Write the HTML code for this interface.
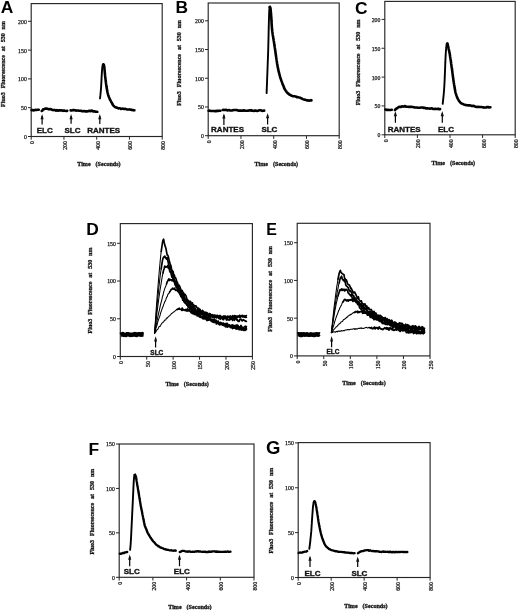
<!DOCTYPE html>
<html><head><meta charset="utf-8"><style>
html,body{margin:0;padding:0;background:#fff;}
body{width:520px;height:610px;overflow:hidden;font-family:"Liberation Sans",sans-serif;}
svg{display:block;filter:grayscale(1);}
</style></head><body>
<svg width="520" height="610" viewBox="0 0 520 610">
<rect width="520" height="610" fill="#fff"/>
<rect x="31.2" y="3.6" width="131" height="132.9" fill="none" stroke="#262626" stroke-width="1.15"/>
<line x1="28" y1="136.5" x2="31.2" y2="136.5" stroke="#262626" stroke-width="1"/>
<text x="26.8" y="138.9" font-family="Liberation Serif" font-size="5.8" text-anchor="end" fill="#1a1a1a" stroke="#222" stroke-width="0.25">0</text>
<line x1="28" y1="107.7" x2="31.2" y2="107.7" stroke="#262626" stroke-width="1"/>
<text x="26.8" y="110.1" font-family="Liberation Serif" font-size="5.8" text-anchor="end" fill="#1a1a1a" stroke="#222" stroke-width="0.25">50</text>
<line x1="28" y1="78.9" x2="31.2" y2="78.9" stroke="#262626" stroke-width="1"/>
<text x="26.8" y="81.3" font-family="Liberation Serif" font-size="5.8" text-anchor="end" fill="#1a1a1a" stroke="#222" stroke-width="0.25">100</text>
<line x1="28" y1="50.1" x2="31.2" y2="50.1" stroke="#262626" stroke-width="1"/>
<text x="26.8" y="52.5" font-family="Liberation Serif" font-size="5.8" text-anchor="end" fill="#1a1a1a" stroke="#222" stroke-width="0.25">150</text>
<line x1="28" y1="21.3" x2="31.2" y2="21.3" stroke="#262626" stroke-width="1"/>
<text x="26.8" y="23.7" font-family="Liberation Serif" font-size="5.8" text-anchor="end" fill="#1a1a1a" stroke="#222" stroke-width="0.25">200</text>
<line x1="31.2" y1="136.5" x2="31.2" y2="139.7" stroke="#262626" stroke-width="1"/>
<text transform="translate(34.1 141.1) rotate(-90)" font-family="Liberation Serif" font-size="5.8" text-anchor="end" fill="#1a1a1a" stroke="#222" stroke-width="0.25">0</text>
<line x1="63.95" y1="136.5" x2="63.95" y2="139.7" stroke="#262626" stroke-width="1"/>
<text transform="translate(66.85 141.1) rotate(-90)" font-family="Liberation Serif" font-size="5.8" text-anchor="end" fill="#1a1a1a" stroke="#222" stroke-width="0.25">200</text>
<line x1="96.7" y1="136.5" x2="96.7" y2="139.7" stroke="#262626" stroke-width="1"/>
<text transform="translate(99.6 141.1) rotate(-90)" font-family="Liberation Serif" font-size="5.8" text-anchor="end" fill="#1a1a1a" stroke="#222" stroke-width="0.25">400</text>
<line x1="129.45" y1="136.5" x2="129.45" y2="139.7" stroke="#262626" stroke-width="1"/>
<text transform="translate(132.35 141.1) rotate(-90)" font-family="Liberation Serif" font-size="5.8" text-anchor="end" fill="#1a1a1a" stroke="#222" stroke-width="0.25">600</text>
<line x1="162.2" y1="136.5" x2="162.2" y2="139.7" stroke="#262626" stroke-width="1"/>
<text transform="translate(165.1 141.1) rotate(-90)" font-family="Liberation Serif" font-size="5.8" text-anchor="end" fill="#1a1a1a" stroke="#222" stroke-width="0.25">800</text>
<text x="0.8" y="12.9" font-family="Liberation Sans" font-weight="bold" font-size="17.4" fill="#000">A</text>
<text transform="translate(5.4 106.9) rotate(-90)" font-family="Liberation Serif" font-weight="bold" font-size="6.0" word-spacing="2.4" fill="#1a1a1a" stroke="#111" stroke-width="0.3">Fluo3 Fluorescence at 530 nm</text>
<text x="77.2" y="166.3" font-family="Liberation Serif" font-weight="bold" font-size="6.1" fill="#1a1a1a" stroke="#111" stroke-width="0.3">Time</text>
<text x="95.6" y="166.3" font-family="Liberation Serif" font-weight="bold" font-size="6.1" fill="#1a1a1a" stroke="#111" stroke-width="0.3">(Seconds)</text>
<path d="M31.6 110.08 L32.8 110.01 L34 110.41 L35.25 109.85 L36.5 110.03 L37.65 109.81 L38.8 109.8" fill="none" stroke="#000" stroke-width="2.6" stroke-linejoin="round" stroke-linecap="round"/>
<path d="M41.7 110.99 L42.45 110.46 L43.2 109.28 L44.25 109.15 L45.3 108.5 L46.65 108.61 L48 108.95 L49 109.38 L50 109.04 L51 109.26 L52 109.69 L53 110.09 L54 110 L55 110.05 L56 110.63 L57 110.06 L58 110.7 L59 110.38 L60 110.35 L61 110.36 L62 110.52 L63 110.9 L64 110.48 L65.07 110.82 L66.13 110.93 L67.2 110.9" fill="none" stroke="#000" stroke-width="2.6" stroke-linejoin="round" stroke-linecap="round"/>
<path d="M70.6 110.41 L71.7 110.51 L72.8 110.14 L73.9 110.12 L75 110.19 L76 110.61 L77 110.51 L78 110.51 L79 110.78 L80 110.77 L81 110.76 L82 111.21 L83 111.24 L84 111.02 L85 111.35 L86 111.22 L87 111.36 L88 111.16 L89.17 110.78 L90.33 111.2 L91.5 110.53 L92.5 111.01 L93.5 111.51 L94.5 111.36 L95.9 111.69 L97.3 111.8" fill="none" stroke="#000" stroke-width="2.6" stroke-linejoin="round" stroke-linecap="round"/>
<path d="M100 98.46 L100.09 97.8 L100.18 96.98 L100.27 96.13 L100.36 95.42 L100.44 94.45 L100.54 93.6 L100.64 92.6 L100.73 91.63 L100.8 90.79 L100.87 90.1 L100.93 89.33 L101 88.39 L101.06 87.49 L101.12 86.36 L101.18 85.59 L101.24 84.62 L101.28 83.84 L101.33 82.9 L101.38 81.86 L101.42 81 L101.47 80.2 L101.51 79.14 L101.56 78.41 L101.6 77.45 L101.65 76.57 L101.69 75.69 L101.74 75.02 L101.8 73.95 L101.85 73.11 L101.9 72.27 L101.96 71.57 L102.02 70.49 L102.09 69.76 L102.17 68.83 L102.26 67.98 L102.42 66.52 L102.6 65.41 L102.81 64.52 L103.04 64.29 L103.25 64.22 L103.4 64.2" fill="none" stroke="#000" stroke-width="1.9" stroke-linejoin="round" stroke-linecap="round"/>
<path d="M103.4 64.39 L103.54 64.71 L103.75 64.67 L103.98 65.3 L104.2 66.37 L104.3 67.16 L104.39 68.08 L104.49 69.15 L104.58 70 L104.68 70.99 L104.78 72.32 L104.89 73.42 L105 74.63 L105.12 75.92 L105.24 76.89 L105.36 77.93 L105.49 79.12 L105.63 80.31 L105.77 81.17 L105.88 82.39 L105.99 83.14 L106.1 83.99 L106.22 84.81 L106.35 85.48 L106.47 86.35 L106.61 87.11 L106.75 88.3 L106.89 88.92 L107.04 89.82 L107.2 90.78 L107.36 91.65 L107.54 92.53 L107.72 93.18 L107.9 93.95 L108.22 95.03 L108.54 96.01 L108.89 97.02 L109.25 97.73 L109.63 98.96 L110.01 99.63 L110.41 100.16 L110.8 100.98 L111.21 101.79 L111.63 102.56 L112.07 103.17 L112.51 104.26 L113.38 105.63 L114.2 106.38 L114.94 107.06 L115.62 107.24 L116.3 107.48 L117 107.82 L117.71 108 L118.42 108.43 L119.17 108.22 L120 108.26 L120.93 108.84 L121.94 108.73 L122.98 108.63 L124 108.92 L125.02 108.76 L126.06 109.11 L127.07 109.43 L128 109.48 L128.81 109.52 L129.54 109.42 L130.25 109.61 L131 109.63 L131.9 110.07 L132.89 110.1 L133.78 110.35 L134.4 110.3" fill="none" stroke="#000" stroke-width="2.6" stroke-linejoin="round" stroke-linecap="round"/>
<line x1="42.1" y1="116.1" x2="42.1" y2="124.4" stroke="#000" stroke-width="1.2"/>
<path d="M42.1 114.1 L40.5 119.3 L43.7 119.3 Z" fill="#111"/>
<line x1="71.1" y1="116" x2="71.1" y2="123.8" stroke="#000" stroke-width="1.2"/>
<path d="M71.1 114 L69.5 119.2 L72.7 119.2 Z" fill="#111"/>
<line x1="99.8" y1="116" x2="99.8" y2="124" stroke="#000" stroke-width="1.2"/>
<path d="M99.8 114 L98.2 119.2 L101.4 119.2 Z" fill="#111"/>
<text x="36.7" y="133.1" font-family="Liberation Sans" font-weight="bold" font-size="8.0" fill="#111" stroke="#111" stroke-width="0.35">ELC</text>
<text x="64.5" y="133.1" font-family="Liberation Sans" font-weight="bold" font-size="8.0" fill="#111" stroke="#111" stroke-width="0.35">SLC</text>
<text x="87.2" y="133.1" font-family="Liberation Sans" font-weight="bold" font-size="8.0" fill="#111" stroke="#111" stroke-width="0.35">RANTES</text>
<rect x="208.2" y="3" width="131" height="132.7" fill="none" stroke="#262626" stroke-width="1.15"/>
<line x1="205" y1="135.7" x2="208.2" y2="135.7" stroke="#262626" stroke-width="1"/>
<text x="203.8" y="138.1" font-family="Liberation Serif" font-size="5.8" text-anchor="end" fill="#1a1a1a" stroke="#222" stroke-width="0.25">0</text>
<line x1="205" y1="106.97" x2="208.2" y2="106.97" stroke="#262626" stroke-width="1"/>
<text x="203.8" y="109.38" font-family="Liberation Serif" font-size="5.8" text-anchor="end" fill="#1a1a1a" stroke="#222" stroke-width="0.25">50</text>
<line x1="205" y1="78.25" x2="208.2" y2="78.25" stroke="#262626" stroke-width="1"/>
<text x="203.8" y="80.65" font-family="Liberation Serif" font-size="5.8" text-anchor="end" fill="#1a1a1a" stroke="#222" stroke-width="0.25">100</text>
<line x1="205" y1="49.52" x2="208.2" y2="49.52" stroke="#262626" stroke-width="1"/>
<text x="203.8" y="51.92" font-family="Liberation Serif" font-size="5.8" text-anchor="end" fill="#1a1a1a" stroke="#222" stroke-width="0.25">150</text>
<line x1="205" y1="20.8" x2="208.2" y2="20.8" stroke="#262626" stroke-width="1"/>
<text x="203.8" y="23.2" font-family="Liberation Serif" font-size="5.8" text-anchor="end" fill="#1a1a1a" stroke="#222" stroke-width="0.25">200</text>
<line x1="208.2" y1="135.7" x2="208.2" y2="138.9" stroke="#262626" stroke-width="1"/>
<text transform="translate(211.1 140.3) rotate(-90)" font-family="Liberation Serif" font-size="5.8" text-anchor="end" fill="#1a1a1a" stroke="#222" stroke-width="0.25">0</text>
<line x1="240.95" y1="135.7" x2="240.95" y2="138.9" stroke="#262626" stroke-width="1"/>
<text transform="translate(243.85 140.3) rotate(-90)" font-family="Liberation Serif" font-size="5.8" text-anchor="end" fill="#1a1a1a" stroke="#222" stroke-width="0.25">200</text>
<line x1="273.7" y1="135.7" x2="273.7" y2="138.9" stroke="#262626" stroke-width="1"/>
<text transform="translate(276.6 140.3) rotate(-90)" font-family="Liberation Serif" font-size="5.8" text-anchor="end" fill="#1a1a1a" stroke="#222" stroke-width="0.25">400</text>
<line x1="306.45" y1="135.7" x2="306.45" y2="138.9" stroke="#262626" stroke-width="1"/>
<text transform="translate(309.35 140.3) rotate(-90)" font-family="Liberation Serif" font-size="5.8" text-anchor="end" fill="#1a1a1a" stroke="#222" stroke-width="0.25">600</text>
<line x1="339.2" y1="135.7" x2="339.2" y2="138.9" stroke="#262626" stroke-width="1"/>
<text transform="translate(342.1 140.3) rotate(-90)" font-family="Liberation Serif" font-size="5.8" text-anchor="end" fill="#1a1a1a" stroke="#222" stroke-width="0.25">800</text>
<text x="175.5" y="12.9" font-family="Liberation Sans" font-weight="bold" font-size="17.4" fill="#000">B</text>
<text transform="translate(181.2 105.8) rotate(-90)" font-family="Liberation Serif" font-weight="bold" font-size="6.0" word-spacing="2.4" fill="#1a1a1a" stroke="#111" stroke-width="0.3">Fluo3 Fluorescence at 530 nm</text>
<text x="254.6" y="166" font-family="Liberation Serif" font-weight="bold" font-size="6.1" fill="#1a1a1a" stroke="#111" stroke-width="0.3">Time</text>
<text x="273" y="166" font-family="Liberation Serif" font-weight="bold" font-size="6.1" fill="#1a1a1a" stroke="#111" stroke-width="0.3">(Seconds)</text>
<path d="M208.6 110.78 L209.73 110.64 L210.87 110.98 L212 111.04 L213 111.02 L214 111.06 L215 111.15 L216 111.17 L217.1 110.76 L218.2 110.91 L219.3 110.75 L220.4 110.8" fill="none" stroke="#000" stroke-width="2.6" stroke-linejoin="round" stroke-linecap="round"/>
<path d="M222.7 109.97 L223.8 109.87 L224.9 109.95 L226 109.83 L227 110.17 L228 110.39 L229 110.06 L230 110.44 L231 110.51 L232 110.52 L233 110.12 L234 110.04 L235 110.06 L236 110.05 L237 110.08 L238 110.39 L239 110.63 L240 110.64 L241 110.44 L242 110.61 L243 110.76 L244 110.31 L245 110.68 L246 110.82 L247 110.7 L248 110.64 L249 110.42 L250 110.17 L251 110.65 L252 110.38 L253 110.76 L254 110.93 L255 110.58 L256 110.63 L257 110.96 L258 110.76 L259 110.32 L260 110.24 L261.05 110.28 L262.1 110.83 L263.15 110.79 L264.2 110.6" fill="none" stroke="#000" stroke-width="2.6" stroke-linejoin="round" stroke-linecap="round"/>
<path d="M266.6 93.17 L266.64 92.46 L266.67 91.57 L266.71 90.5 L266.74 89.44 L266.78 88.6 L266.81 87.53 L266.85 86.58 L266.88 86.02 L266.92 84.99 L266.95 84.03 L266.98 83.3 L267.02 82.24 L267.05 81.52 L267.08 80.63 L267.12 79.53 L267.15 78.66 L267.18 77.8 L267.21 76.94 L267.24 76.23 L267.27 75.27 L267.31 74.49 L267.34 73.55 L267.37 72.99 L267.4 71.95 L267.43 71.09 L267.47 70.24 L267.5 69.46 L267.54 68.38 L267.57 67.67 L267.6 66.62 L267.64 65.73 L267.67 64.83 L267.71 63.75 L267.74 63.01 L267.78 62.02 L267.81 61.05 L267.85 60.42 L267.88 59.28 L267.91 58.47 L267.95 57.64 L267.98 56.66 L268.01 55.66 L268.04 54.92 L268.07 54.11 L268.09 53.38 L268.12 52.31 L268.15 51.66 L268.17 50.73 L268.2 49.92 L268.22 49.2 L268.25 48.2 L268.27 47.31 L268.3 46.48 L268.32 45.63 L268.34 44.56 L268.37 43.72 L268.39 42.84 L268.41 42 L268.43 41.22 L268.45 40.29 L268.47 39.48 L268.49 38.62 L268.51 37.94 L268.53 37.01 L268.54 36.27 L268.56 35.48 L268.58 34.43 L268.6 33.73 L268.61 33.06 L268.63 32.21 L268.65 31.15 L268.67 30.34 L268.69 29.54 L268.71 28.5 L268.73 27.64 L268.76 26.67 L268.78 25.97 L268.8 25.1 L268.82 24.29 L268.85 23.16 L268.87 22.51 L268.89 21.63 L268.91 20.59 L268.94 19.98 L268.96 19.14 L268.99 18.01 L269.01 17.4 L269.04 16.25 L269.07 15.34 L269.1 14.57 L269.15 13.32 L269.2 11.88 L269.25 11.03 L269.31 10.12 L269.42 8.73 L269.53 7.76 L269.6 7.2" fill="none" stroke="#000" stroke-width="1.9" stroke-linejoin="round" stroke-linecap="round"/>
<path d="M269.6 7.09 L269.74 7.31 L269.95 6.81 L270.18 7.31 L270.4 7.96 L270.6 9.06 L270.7 10.16 L270.79 11.25 L270.89 12.3 L270.99 13.15 L271.06 14.56 L271.13 15.31 L271.2 16.28 L271.26 16.8 L271.33 17.94 L271.39 18.84 L271.44 20.19 L271.49 20.79 L271.53 21.61 L271.58 22.68 L271.64 23.92 L271.69 24.8 L271.75 25.4 L271.8 26.27 L271.88 27.61 L271.95 28.28 L272.03 29.24 L272.1 29.75 L272.2 30.53 L272.3 31.71 L272.41 32.35 L272.51 32.94 L272.67 34.48 L272.83 35.32 L272.99 36.44 L273.17 37.01 L273.34 38.48 L273.51 39 L273.67 40.49 L273.84 41.26 L274 42.2 L274.15 43.36 L274.3 44.61 L274.45 45.24 L274.6 46.18 L274.75 47.44 L274.9 48.29 L275.05 49.24 L275.2 50.3 L275.35 51.26 L275.5 52.37 L275.65 53.46 L275.8 54.48 L275.95 55.8 L276.1 56.56 L276.26 57.73 L276.37 58.33 L276.48 59.23 L276.6 59.82 L276.71 60.76 L276.87 61.65 L277.03 63.11 L277.19 64.03 L277.36 64.78 L277.53 65.92 L277.7 67.16 L277.89 67.56 L278.07 68.88 L278.26 69.54 L278.46 70.42 L278.66 71.47 L278.86 72.04 L279.07 72.9 L279.27 73.8 L279.48 74.77 L279.79 75.49 L280.1 76.9 L280.4 77.84 L280.7 78.82 L281.01 79.61 L281.31 80.5 L281.62 81.21 L281.93 82.13 L282.27 82.97 L282.6 84.24 L282.96 84.85 L283.32 85.69 L283.7 86.54 L284.08 87.89 L284.48 88.74 L284.88 89.45 L285.29 89.95 L285.7 90.65 L286.53 91.86 L287.38 92.93 L288.29 93.57 L289.3 94.47 L290.45 94.95 L291.72 95.83 L293.02 96.21 L294.3 96.33 L295.53 96.49 L296.76 97.22 L297.98 97.12 L299.2 97.51 L300.43 97.77 L301.65 98.54 L302.88 99.12 L304.1 99.6 L305.38 99.82 L306.7 100.36 L307.94 100.34 L309 100.66 L309.85 100.54 L310.56 100.56 L311.11 100.15 L311.5 100.3" fill="none" stroke="#000" stroke-width="2.6" stroke-linejoin="round" stroke-linecap="round"/>
<line x1="223.9" y1="115.2" x2="223.9" y2="125" stroke="#000" stroke-width="1.2"/>
<path d="M223.9 113.2 L222.3 118.4 L225.5 118.4 Z" fill="#111"/>
<line x1="267.6" y1="115" x2="267.6" y2="124.5" stroke="#000" stroke-width="1.2"/>
<path d="M267.6 113 L266 118.2 L269.2 118.2 Z" fill="#111"/>
<text x="211.1" y="132.3" font-family="Liberation Sans" font-weight="bold" font-size="8.0" fill="#111" stroke="#111" stroke-width="0.35">RANTES</text>
<text x="261.4" y="132.3" font-family="Liberation Sans" font-weight="bold" font-size="8.0" fill="#111" stroke="#111" stroke-width="0.35">SLC</text>
<rect x="384.8" y="1.4" width="130.4" height="133.4" fill="none" stroke="#262626" stroke-width="1.15"/>
<line x1="381.6" y1="134.8" x2="384.8" y2="134.8" stroke="#262626" stroke-width="1"/>
<text x="380.4" y="137.2" font-family="Liberation Serif" font-size="5.8" text-anchor="end" fill="#1a1a1a" stroke="#222" stroke-width="0.25">0</text>
<line x1="381.6" y1="105.95" x2="384.8" y2="105.95" stroke="#262626" stroke-width="1"/>
<text x="380.4" y="108.35" font-family="Liberation Serif" font-size="5.8" text-anchor="end" fill="#1a1a1a" stroke="#222" stroke-width="0.25">50</text>
<line x1="381.6" y1="77.1" x2="384.8" y2="77.1" stroke="#262626" stroke-width="1"/>
<text x="380.4" y="79.5" font-family="Liberation Serif" font-size="5.8" text-anchor="end" fill="#1a1a1a" stroke="#222" stroke-width="0.25">100</text>
<line x1="381.6" y1="48.25" x2="384.8" y2="48.25" stroke="#262626" stroke-width="1"/>
<text x="380.4" y="50.65" font-family="Liberation Serif" font-size="5.8" text-anchor="end" fill="#1a1a1a" stroke="#222" stroke-width="0.25">150</text>
<line x1="381.6" y1="19.4" x2="384.8" y2="19.4" stroke="#262626" stroke-width="1"/>
<text x="380.4" y="21.8" font-family="Liberation Serif" font-size="5.8" text-anchor="end" fill="#1a1a1a" stroke="#222" stroke-width="0.25">200</text>
<line x1="384.8" y1="134.8" x2="384.8" y2="138" stroke="#262626" stroke-width="1"/>
<text transform="translate(387.7 139.4) rotate(-90)" font-family="Liberation Serif" font-size="5.8" text-anchor="end" fill="#1a1a1a" stroke="#222" stroke-width="0.25">0</text>
<line x1="417.4" y1="134.8" x2="417.4" y2="138" stroke="#262626" stroke-width="1"/>
<text transform="translate(420.3 139.4) rotate(-90)" font-family="Liberation Serif" font-size="5.8" text-anchor="end" fill="#1a1a1a" stroke="#222" stroke-width="0.25">200</text>
<line x1="450" y1="134.8" x2="450" y2="138" stroke="#262626" stroke-width="1"/>
<text transform="translate(452.9 139.4) rotate(-90)" font-family="Liberation Serif" font-size="5.8" text-anchor="end" fill="#1a1a1a" stroke="#222" stroke-width="0.25">400</text>
<line x1="482.6" y1="134.8" x2="482.6" y2="138" stroke="#262626" stroke-width="1"/>
<text transform="translate(485.5 139.4) rotate(-90)" font-family="Liberation Serif" font-size="5.8" text-anchor="end" fill="#1a1a1a" stroke="#222" stroke-width="0.25">600</text>
<line x1="515.2" y1="134.8" x2="515.2" y2="138" stroke="#262626" stroke-width="1"/>
<text transform="translate(518.1 139.4) rotate(-90)" font-family="Liberation Serif" font-size="5.8" text-anchor="end" fill="#1a1a1a" stroke="#222" stroke-width="0.25">800</text>
<text x="354.9" y="13.6" font-family="Liberation Sans" font-weight="bold" font-size="17.4" fill="#000">C</text>
<text transform="translate(360.2 105.3) rotate(-90)" font-family="Liberation Serif" font-weight="bold" font-size="6.0" word-spacing="2.4" fill="#1a1a1a" stroke="#111" stroke-width="0.3">Fluo3 Fluorescence at 530 nm</text>
<text x="431.6" y="165.4" font-family="Liberation Serif" font-weight="bold" font-size="6.1" fill="#1a1a1a" stroke="#111" stroke-width="0.3">Time</text>
<text x="450" y="165.4" font-family="Liberation Serif" font-weight="bold" font-size="6.1" fill="#1a1a1a" stroke="#111" stroke-width="0.3">(Seconds)</text>
<path d="M385.4 109.57 L386.7 109.86 L388 109.91 L389.27 110.06 L390.53 109.92 L391.8 109.8" fill="none" stroke="#000" stroke-width="2.6" stroke-linejoin="round" stroke-linecap="round"/>
<path d="M394.9 109.98 L395.7 109.16 L396.5 108.45 L397.5 108.02 L398.5 107.12 L399.75 106.78 L401 106.94 L402 106.28 L403 106.61 L404 106.48 L405 105.98 L406 106.63 L407 106.77 L408 106.69 L409 106.86 L410 107.02 L411 106.63 L412 106.98 L413 107.05 L414 107.37 L415 107.43 L416 107.53 L417 107.44 L418 107.74 L419 107.68 L420 107.77 L421 107.53 L422 107.47 L423 107.63 L424 107.88 L425 107.79 L426 108.39 L427 108.28 L428 108.41 L429 108.5 L430 108.63 L431 108.56 L432 108.29 L433 108.91 L434 108.94 L435 108.84 L436 108.92 L437.02 109.06 L438.05 108.7 L439.08 109.22 L440.1 109.1" fill="none" stroke="#000" stroke-width="2.6" stroke-linejoin="round" stroke-linecap="round"/>
<path d="M442.7 103.91 L442.8 102.9 L442.9 102.01 L443 101.23 L443.08 100.23 L443.17 99.62 L443.25 98.9 L443.34 97.92 L443.43 97.07 L443.5 96.29 L443.58 95.54 L443.66 94.75 L443.74 93.88 L443.81 93.07 L443.89 92.04 L443.96 91.15 L444.03 90.28 L444.1 89.54 L444.16 88.46 L444.23 87.64 L444.3 86.52 L444.34 85.71 L444.38 84.96 L444.43 84.27 L444.47 83.45 L444.51 82.61 L444.55 81.64 L444.59 80.9 L444.64 80.05 L444.67 79.19 L444.7 78.21 L444.74 77.63 L444.77 76.52 L444.81 75.94 L444.84 75.06 L444.88 73.88 L444.91 73.18 L444.94 72.45 L444.98 71.66 L445.01 70.63 L445.04 69.72 L445.07 68.85 L445.1 68.27 L445.13 67.16 L445.17 66.45 L445.2 65.45 L445.23 64.75 L445.27 64.01 L445.31 62.82 L445.35 62.18 L445.38 61.18 L445.42 60.42 L445.46 59.46 L445.5 58.4 L445.55 57.73 L445.6 56.67 L445.65 55.59 L445.69 54.66 L445.74 53.93 L445.8 53.02 L445.85 52.08 L445.91 51.13 L445.96 50.32 L446.03 49.4 L446.1 48.67 L446.17 47.46 L446.29 46.66 L446.4 45.62 L446.67 44 L446.96 43.74 L447.22 43.52 L447.4 43.3" fill="none" stroke="#000" stroke-width="1.9" stroke-linejoin="round" stroke-linecap="round"/>
<path d="M447.4 43.54 L447.62 44.09 L447.92 45.45 L448.27 46.96 L448.6 48.8 L448.88 49.84 L449.16 50.95 L449.45 52.47 L449.63 53.37 L449.8 54.23 L449.94 55.15 L450.09 56.48 L450.23 57.04 L450.35 58.22 L450.47 58.6 L450.59 59.4 L450.71 60.34 L450.84 61 L450.96 61.96 L451.09 63.16 L451.22 63.96 L451.34 64.76 L451.46 65.49 L451.58 66.51 L451.7 67.36 L451.81 67.97 L451.93 68.92 L452.04 69.36 L452.15 70.61 L452.27 71.31 L452.38 72.36 L452.49 73.16 L452.6 73.82 L452.71 74.53 L452.82 75.91 L452.93 76.29 L453.05 77.36 L453.16 78.09 L453.27 78.86 L453.39 79.94 L453.5 80.89 L453.65 81.47 L453.8 82.72 L453.96 83.51 L454.11 84.64 L454.26 85.51 L454.41 86.34 L454.57 87.24 L454.73 88.17 L454.89 89.49 L455.06 90.06 L455.23 90.71 L455.4 91.94 L455.67 93.08 L455.93 93.83 L456.21 94.6 L456.49 95.59 L456.79 96.38 L457.1 97.38 L457.45 97.99 L457.8 98.84 L458.61 100.2 L459.49 101.53 L460.46 102.7 L461.5 103.45 L462.62 103.92 L463.83 104.43 L465.1 104.89 L466.4 105.13 L467.77 105.33 L469.2 105.29 L470.63 105.52 L472 106.08 L473.25 105.81 L474.42 106.31 L475.61 106.65 L476.9 107.02 L478.31 106.8 L479.79 106.98 L481.36 107.07 L482.18 107.2 L483 107.27 L483.97 107.59 L484.93 107.54 L486.01 107.56 L487.08 107.04 L488.06 107.04 L489.04 107.44 L490.4 107.3" fill="none" stroke="#000" stroke-width="2.6" stroke-linejoin="round" stroke-linecap="round"/>
<line x1="395.4" y1="113" x2="395.4" y2="122.7" stroke="#000" stroke-width="1.2"/>
<path d="M395.4 111 L393.8 116.2 L397 116.2 Z" fill="#111"/>
<line x1="442.3" y1="113" x2="442.3" y2="122.7" stroke="#000" stroke-width="1.2"/>
<path d="M442.3 111 L440.7 116.2 L443.9 116.2 Z" fill="#111"/>
<text x="387.7" y="131.9" font-family="Liberation Sans" font-weight="bold" font-size="8.0" fill="#111" stroke="#111" stroke-width="0.35">RANTES</text>
<text x="438" y="131.9" font-family="Liberation Sans" font-weight="bold" font-size="8.0" fill="#111" stroke="#111" stroke-width="0.35">ELC</text>
<rect x="120.3" y="223.6" width="132.1" height="132.9" fill="none" stroke="#262626" stroke-width="1.15"/>
<line x1="117.1" y1="356.5" x2="120.3" y2="356.5" stroke="#262626" stroke-width="1"/>
<text x="115.9" y="358.9" font-family="Liberation Serif" font-size="5.8" text-anchor="end" fill="#1a1a1a" stroke="#222" stroke-width="0.25">0</text>
<line x1="117.1" y1="318.77" x2="120.3" y2="318.77" stroke="#262626" stroke-width="1"/>
<text x="115.9" y="321.17" font-family="Liberation Serif" font-size="5.8" text-anchor="end" fill="#1a1a1a" stroke="#222" stroke-width="0.25">50</text>
<line x1="117.1" y1="281.03" x2="120.3" y2="281.03" stroke="#262626" stroke-width="1"/>
<text x="115.9" y="283.43" font-family="Liberation Serif" font-size="5.8" text-anchor="end" fill="#1a1a1a" stroke="#222" stroke-width="0.25">100</text>
<line x1="117.1" y1="243.3" x2="120.3" y2="243.3" stroke="#262626" stroke-width="1"/>
<text x="115.9" y="245.7" font-family="Liberation Serif" font-size="5.8" text-anchor="end" fill="#1a1a1a" stroke="#222" stroke-width="0.25">150</text>
<line x1="120.3" y1="356.5" x2="120.3" y2="359.7" stroke="#262626" stroke-width="1"/>
<text transform="translate(123.2 361.1) rotate(-90)" font-family="Liberation Serif" font-size="5.8" text-anchor="end" fill="#1a1a1a" stroke="#222" stroke-width="0.25">0</text>
<line x1="146.72" y1="356.5" x2="146.72" y2="359.7" stroke="#262626" stroke-width="1"/>
<text transform="translate(149.62 361.1) rotate(-90)" font-family="Liberation Serif" font-size="5.8" text-anchor="end" fill="#1a1a1a" stroke="#222" stroke-width="0.25">50</text>
<line x1="173.14" y1="356.5" x2="173.14" y2="359.7" stroke="#262626" stroke-width="1"/>
<text transform="translate(176.04 361.1) rotate(-90)" font-family="Liberation Serif" font-size="5.8" text-anchor="end" fill="#1a1a1a" stroke="#222" stroke-width="0.25">100</text>
<line x1="199.56" y1="356.5" x2="199.56" y2="359.7" stroke="#262626" stroke-width="1"/>
<text transform="translate(202.46 361.1) rotate(-90)" font-family="Liberation Serif" font-size="5.8" text-anchor="end" fill="#1a1a1a" stroke="#222" stroke-width="0.25">150</text>
<line x1="225.98" y1="356.5" x2="225.98" y2="359.7" stroke="#262626" stroke-width="1"/>
<text transform="translate(228.88 361.1) rotate(-90)" font-family="Liberation Serif" font-size="5.8" text-anchor="end" fill="#1a1a1a" stroke="#222" stroke-width="0.25">200</text>
<line x1="252.4" y1="356.5" x2="252.4" y2="359.7" stroke="#262626" stroke-width="1"/>
<text transform="translate(255.3 361.1) rotate(-90)" font-family="Liberation Serif" font-size="5.8" text-anchor="end" fill="#1a1a1a" stroke="#222" stroke-width="0.25">250</text>
<text x="86.3" y="235.3" font-family="Liberation Sans" font-weight="bold" font-size="17.4" fill="#000">D</text>
<text transform="translate(92.3 333.4) rotate(-90)" font-family="Liberation Serif" font-weight="bold" font-size="6.0" word-spacing="2.4" fill="#1a1a1a" stroke="#111" stroke-width="0.3">Fluo3 Fluorescence at 530 nm</text>
<text x="165.4" y="386" font-family="Liberation Serif" font-weight="bold" font-size="6.1" fill="#1a1a1a" stroke="#111" stroke-width="0.3">Time</text>
<text x="183.8" y="386" font-family="Liberation Serif" font-weight="bold" font-size="6.1" fill="#1a1a1a" stroke="#111" stroke-width="0.3">(Seconds)</text>
<path d="M120.6 334.9 L121.3 334.47 L122 334.59 L122.7 334 L123.4 334.39 L124.1 334.93 L124.8 334.83 L125.5 334.86 L126.2 334.97 L126.9 334.25 L127.6 334.11 L128.3 334.15 L129 334.52 L129.7 334.68 L130.4 334.94 L131.1 334.72 L131.8 334.65 L132.5 334.76 L133.2 334.46 L133.9 334.55 L134.6 334.04 L135.3 334.78 L136 334.23 L136.7 334.92 L137.4 334.65 L138.1 334.3 L138.8 334.13 L139.5 334.25 L140.2 334.64 L140.9 334.7 L141.6 334.11 L142.3 334.07 L143 334.52 L143.7 334.58" fill="none" stroke="#000" stroke-width="4.4" stroke-linejoin="round" stroke-linecap="butt"/>
<path d="M154.6 333.09 L155.2 323.94 L155.8 315.59 L156.4 306.56 L157 298.68 L157.6 290.99 L158.2 283.94 L158.8 276.45 L159.4 269.88 L160 263.07 L160.6 256.89 L161.2 251.46" fill="none" stroke="#000" stroke-width="1.05" stroke-linejoin="round" stroke-linecap="round"/>
<path d="M161.2 251.46 L161.8 247.31 L162.4 243.25 L163 240.16 L163.6 239.23 L164.2 242.39 L164.8 245.14 L165.4 246.78 L166 248.67 L166.6 252.11 L167.2 255.06 L167.8 255.27 L168.4 256.83 L169 259.72 L169.6 261.92 L170.2 264.56 L170.8 265.05 L171.4 268.51 L172 270.08 L172.6 271.1 L173.2 271.88 L173.8 275.58 L174.4 275.26 L175 278.14 L175.6 277.91 L176.2 279.26 L176.8 282.09 L177.4 282.07 L178 285.15 L178.6 285.08 L179.2 285.38 L179.8 286.6 L180.4 288.23 L181 289.98 L181.6 291.79 L182.2 290.52 L182.8 292.17 L183.4 292.58 L184 295.6 L184.6 294.13 L185.2 294.71 L185.8 295.54 L186.4 297.25 L187 299.42 L187.6 300.11 L188.2 300.39 L188.8 301.81 L189.4 302.29 L190 301.24 L190.6 301.48 L191.2 304.2 L191.8 304.27 L192.4 302.85 L193 305.18 L193.6 304.92 L194.2 305.44 L194.8 305.83 L195.4 305.87 L196 305.88 L196.6 307.12 L197.2 307.78 L197.8 309.9 L198.4 308 L199 310.76 L199.6 309.04 L200.2 309.84 L200.8 311.51 L201.4 311.88 L202 311.13 L202.6 310.4 L203.2 311.92 L203.8 311.95 L204.4 313.79 L205 312.06 L205.6 312.83 L206.2 314.6 L206.8 312.45 L207.4 313.78 L208 315.16 L208.6 315.28 L209.2 313.49 L209.8 313.71 L210.4 314 L211 316.6 L211.6 314.94 L212.2 316.5 L212.8 317.1 L213.4 315.71 L214 315.69 L214.6 317.77 L215.2 316.97 L215.8 316.13 L216.4 317.55 L217 316.57 L217.6 316.6 L218.2 315.97 L218.8 318.2 L219.4 318.78 L220 318.11 L220.6 319.09 L221.2 316.63 L221.8 317.33 L222.4 318.11 L223 319.56 L223.6 319.65 L224.2 318.15 L224.8 317.87 L225.4 318.46 L226 318.72 L226.6 320.02 L227.2 318.02 L227.8 319.83 L228.4 319.73 L229 320.03 L229.6 319.97 L230.2 319.57 L230.8 318.85 L231.4 318.89 L232 319.08 L232.6 320.31 L233.2 318.4 L233.8 318.79 L234.4 320.4 L235 319.03 L235.6 318.57 L236.2 318.54 L236.8 320.04 L237.4 319.45 L238 321.32 L238.6 321.1 L239.2 321.43 L239.8 319.45 L240.4 318.98 L241 319.05 L241.6 320.21 L242.2 320.84 L242.8 320.14 L243.4 319.57 L244 320.12 L244.6 320.72 L245.2 320.9 L245.8 321.13 L246.4 321.44" fill="none" stroke="#000" stroke-width="1.7" stroke-linejoin="round" stroke-linecap="round"/>
<path d="M154.6 333.36 L155.2 325.77 L155.8 319.61 L156.4 312.42 L157 306.25 L157.6 299.85 L158.2 294.25 L158.8 288.02 L159.4 282.64 L160 277.52 L160.6 272.64 L161.2 268.93" fill="none" stroke="#000" stroke-width="1.05" stroke-linejoin="round" stroke-linecap="round"/>
<path d="M161.2 268.93 L161.8 264.63 L162.4 260.9 L163 258.29 L163.6 257.2 L164.2 256.81 L164.8 256.13 L165.4 257.89 L166 257.71 L166.6 259.2 L167.2 257.84 L167.8 260.54 L168.4 263.39 L169 265.37 L169.6 267.48 L170.2 266.9 L170.8 269.43 L171.4 270.71 L172 272.62 L172.6 276.48 L173.2 277 L173.8 279.53 L174.4 279.47 L175 282.32 L175.6 282.56 L176.2 283.4 L176.8 286.18 L177.4 287.93 L178 286.82 L178.6 289.39 L179.2 290.61 L179.8 290.61 L180.4 292.12 L181 292.53 L181.6 293.72 L182.2 294.85 L182.8 296.76 L183.4 297.83 L184 297.46 L184.6 297.78 L185.2 299.5 L185.8 301.29 L186.4 300.69 L187 301.79 L187.6 302.22 L188.2 304.58 L188.8 304.57 L189.4 303.87 L190 304.61 L190.6 306.02 L191.2 307.01 L191.8 307.8 L192.4 306.78 L193 307.49 L193.6 309.46 L194.2 309.13 L194.8 309.23 L195.4 309.68 L196 311.84 L196.6 310.38 L197.2 311.41 L197.8 311.12 L198.4 311.58 L199 313.11 L199.6 313.75 L200.2 312.23 L200.8 312 L201.4 313.72 L202 312.47 L202.6 312.12 L203.2 314.82 L203.8 313.67 L204.4 314.96 L205 313.97 L205.6 315.46 L206.2 314.43 L206.8 313.74 L207.4 313.46 L208 315.08 L208.6 315.45 L209.2 316.32 L209.8 314.12 L210.4 315.73 L211 315.16 L211.6 315.65 L212.2 314.76 L212.8 315.25 L213.4 316.02 L214 317.25 L214.6 315.05 L215.2 316.21 L215.8 317.17 L216.4 317.7 L217 315.61 L217.6 315.48 L218.2 317.83 L218.8 317.97 L219.4 316.65 L220 315.49 L220.6 317.98 L221.2 316.52 L221.8 318 L222.4 317.24 L223 317.84 L223.6 316.01 L224.2 317.78 L224.8 316.22 L225.4 316.75 L226 318 L226.6 317.97 L227.2 316.17 L227.8 316.27 L228.4 316.78 L229 317.11 L229.6 316.74 L230.2 316 L230.8 316.35 L231.4 317.67 L232 318.15 L232.6 315.74 L233.2 317.18 L233.8 317.71 L234.4 315.68 L235 317.9 L235.6 315.86 L236.2 317.19 L236.8 317.03 L237.4 317.22 L238 316.29 L238.6 316.58 L239.2 317.01 L239.8 316.53 L240.4 317.15 L241 316.53 L241.6 316.47 L242.2 315.27 L242.8 316.9 L243.4 316.5 L244 315.74 L244.6 317.18 L245.2 317.21 L245.8 316.34 L246.4 315.58" fill="none" stroke="#000" stroke-width="1.7" stroke-linejoin="round" stroke-linecap="round"/>
<path d="M154.6 333.17 L155.2 327.51 L155.8 322.35 L156.4 317.6 L157 312.36 L157.6 307.93 L158.2 303.38 L158.8 298.46 L159.4 294.74 L160 290.07 L160.6 286.77 L161.2 283.07 L161.8 279.29 L162.4 275.56 L163 273" fill="none" stroke="#000" stroke-width="1.05" stroke-linejoin="round" stroke-linecap="round"/>
<path d="M163 273 L163.6 270.18 L164.2 268.43 L164.8 266.02 L165.4 266.74 L166 267.21 L166.6 266.57 L167.2 266.95 L167.8 265.48 L168.4 268.21 L169 267.84 L169.6 270.6 L170.2 272.16 L170.8 271.77 L171.4 275.23 L172 277.31 L172.6 276.52 L173.2 278.92 L173.8 281.6 L174.4 281.43 L175 284.95 L175.6 284.62 L176.2 287.49 L176.8 286.93 L177.4 289.21 L178 291.62 L178.6 290.82 L179.2 292.14 L179.8 293.94 L180.4 294.5 L181 294.76 L181.6 296.18 L182.2 297.1 L182.8 300.22 L183.4 300.42 L184 301.91 L184.6 300.74 L185.2 303.29 L185.8 302.22 L186.4 304.16 L187 305.21 L187.6 305.17 L188.2 307.31 L188.8 307.1 L189.4 307.83 L190 309.31 L190.6 307.67 L191.2 310.68 L191.8 310.17 L192.4 309.99 L193 311.59 L193.6 310.54 L194.2 313 L194.8 312.26 L195.4 312.1 L196 313.68 L196.6 313.22 L197.2 312.9 L197.8 314.9 L198.4 313.35 L199 315.89 L199.6 314.68 L200.2 316.11 L200.8 317.43 L201.4 316.65 L202 317.19 L202.6 316.52 L203.2 315.95 L203.8 316.34 L204.4 316.94 L205 318.52 L205.6 318.27 L206.2 318.76 L206.8 320.08 L207.4 318.18 L208 318.68 L208.6 320.09 L209.2 318.54 L209.8 318.7 L210.4 319.94 L211 319.51 L211.6 320.48 L212.2 320.36 L212.8 321.62 L213.4 321.88 L214 321.04 L214.6 322.45 L215.2 322.26 L215.8 321.54 L216.4 324 L217 322.27 L217.6 322.22 L218.2 322.27 L218.8 323.99 L219.4 324.84 L220 324.79 L220.6 323.91 L221.2 323.71 L221.8 323.18 L222.4 325.13 L223 325.08 L223.6 324.65 L224.2 325.65 L224.8 325.25 L225.4 326.79 L226 326.38 L226.6 325.17 L227.2 327.16 L227.8 324.9 L228.4 326.42 L229 326.21 L229.6 325.88 L230.2 325.52 L230.8 327.68 L231.4 325.66 L232 327.31 L232.6 328.53 L233.2 326.42 L233.8 326.71 L234.4 327.98 L235 327.82 L235.6 328.32 L236.2 328.93 L236.8 327.26 L237.4 327.75 L238 327.84 L238.6 327.25 L239.2 329.72 L239.8 329.53 L240.4 329.46 L241 327.58 L241.6 330.03 L242.2 329.86 L242.8 329.19 L243.4 330.06 L244 329.36 L244.6 328.83 L245.2 328.57 L245.8 328.95 L246.4 328.44" fill="none" stroke="#000" stroke-width="1.7" stroke-linejoin="round" stroke-linecap="round"/>
<path d="M154.6 333.04 L155.2 330.31 L155.8 327.18 L156.4 324.3 L157 321.2 L157.6 317.85 L158.2 315.28 L158.8 312.38 L159.4 310.01 L160 307.09 L160.6 304.25 L161.2 302.11 L161.8 299.99 L162.4 296.91 L163 295.28 L163.6 292.25 L164.2 290.41 L164.8 288.4 L165.4 287.02 L166 285.47 L166.6 283.65" fill="none" stroke="#000" stroke-width="1.05" stroke-linejoin="round" stroke-linecap="round"/>
<path d="M166.6 283.65 L167.2 281.78 L167.8 281.04 L168.4 279.62 L169 278.92 L169.6 280.36 L170.2 279.64 L170.8 279.87 L171.4 279.86 L172 280.82 L172.6 279.51 L173.2 280.72 L173.8 280.59 L174.4 281.48 L175 281 L175.6 282.75 L176.2 283.41 L176.8 283.84 L177.4 284.75 L178 287.07 L178.6 286.69 L179.2 290.15 L179.8 289.1 L180.4 289.83 L181 291.09 L181.6 294.39 L182.2 293.72 L182.8 294.1 L183.4 294.69 L184 295.61 L184.6 298.28 L185.2 298.95 L185.8 299.92 L186.4 300.81 L187 299.68 L187.6 301.87 L188.2 301.94 L188.8 303.89 L189.4 304.55 L190 305.39 L190.6 303.67 L191.2 306.5 L191.8 307.19 L192.4 307.82 L193 305.99 L193.6 306.78 L194.2 307 L194.8 307.26 L195.4 310.05 L196 310.49 L196.6 310.51 L197.2 311.56 L197.8 311.51 L198.4 311.02 L199 310.97 L199.6 311.41 L200.2 313.7 L200.8 312.59 L201.4 313.33 L202 314.03 L202.6 313.29 L203.2 314.34 L203.8 314.79 L204.4 316.37 L205 315.75 L205.6 315.97 L206.2 318.11 L206.8 317.15 L207.4 318.45 L208 318.11 L208.6 316.78 L209.2 318.15 L209.8 318.5 L210.4 319.74 L211 318.84 L211.6 320.13 L212.2 319.95 L212.8 319.32 L213.4 321.4 L214 319.51 L214.6 321.8 L215.2 320.24 L215.8 320.01 L216.4 320.82 L217 322.62 L217.6 323.46 L218.2 320.97 L218.8 322.55 L219.4 322.77 L220 323.84 L220.6 322.34 L221.2 323.42 L221.8 323.21 L222.4 324.77 L223 323.37 L223.6 325.48 L224.2 323.82 L224.8 323.81 L225.4 325.36 L226 324.97 L226.6 324.07 L227.2 325.72 L227.8 324.34 L228.4 326.49 L229 326.4 L229.6 326.82 L230.2 326.54 L230.8 325.94 L231.4 326.23 L232 326.36 L232.6 327.91 L233.2 325.81 L233.8 328.21 L234.4 325.94 L235 326.6 L235.6 326.9 L236.2 328.83 L236.8 327.86 L237.4 327.66 L238 329.21 L238.6 327.53 L239.2 328.3 L239.8 328.64 L240.4 329.39 L241 329.52 L241.6 329.36 L242.2 328.65 L242.8 328.72 L243.4 328.37 L244 330.43 L244.6 330.05 L245.2 330.36 L245.8 328.79 L246.4 329.57" fill="none" stroke="#000" stroke-width="1.7" stroke-linejoin="round" stroke-linecap="round"/>
<path d="M154.6 333.47 L155.2 331.16 L155.8 328.63 L156.4 326.9 L157 325.28 L157.6 322.66 L158.2 320.65 L158.8 318.83 L159.4 317.33 L160 315.61 L160.6 313.11 L161.2 311.33 L161.8 309.68 L162.4 308.05 L163 306.58 L163.6 304.61 L164.2 303.21 L164.8 301.55 L165.4 300.84 L166 299.18 L166.6 297.2 L167.2 296.74 L167.8 294.65 L168.4 293.76 L169 293.25 L169.6 292.05" fill="none" stroke="#000" stroke-width="1.05" stroke-linejoin="round" stroke-linecap="round"/>
<path d="M169.6 292.05 L170.2 291.07 L170.8 289.98 L171.4 289.28 L172 289.34 L172.6 288.15 L173.2 288.48 L173.8 289.05 L174.4 288.13 L175 289.24 L175.6 290.46 L176.2 290.36 L176.8 290.06 L177.4 290.81 L178 290.88 L178.6 290.71 L179.2 292.87 L179.8 293.25 L180.4 295.15 L181 296.58 L181.6 296.2 L182.2 297.54 L182.8 298.94 L183.4 298.91 L184 299.24 L184.6 301.46 L185.2 302.72 L185.8 303.22 L186.4 303.78 L187 304.95 L187.6 305.18 L188.2 305.77 L188.8 305.92 L189.4 306.18 L190 307.7 L190.6 306.76 L191.2 308.2 L191.8 309.73 L192.4 310.03 L193 310.27 L193.6 309.67 L194.2 310.6 L194.8 311.11 L195.4 311.93 L196 311.65 L196.6 312.69 L197.2 313.69 L197.8 311.86 L198.4 313.44 L199 314.03 L199.6 313.16 L200.2 313.66 L200.8 315.23 L201.4 312.8 L202 314.4 L202.6 313.5 L203.2 315.4 L203.8 315.99 L204.4 314.96 L205 313.92 L205.6 315.37 L206.2 315.39 L206.8 315.99 L207.4 315.51 L208 315.96 L208.6 316.57 L209.2 315.79 L209.8 315.55 L210.4 317.15 L211 315.2 L211.6 316.64 L212.2 315.92 L212.8 317.05 L213.4 315.35 L214 317.85 L214.6 316.16 L215.2 315.4 L215.8 316.08 L216.4 316.49 L217 315.47 L217.6 316.66 L218.2 316.71 L218.8 317.53 L219.4 316.61 L220 316.4 L220.6 316.32 L221.2 317.79 L221.8 318.37 L222.4 317.24 L223 316.39 L223.6 318.04 L224.2 316.91 L224.8 316.41 L225.4 316.18 L226 318 L226.6 318.09 L227.2 317.6 L227.8 317.13 L228.4 317.38 L229 316.43 L229.6 318.48 L230.2 316.76 L230.8 317.54 L231.4 318.02 L232 317.99 L232.6 316.99 L233.2 316.48 L233.8 317.17 L234.4 315.95 L235 317.9 L235.6 316.53 L236.2 317.88 L236.8 316.21 L237.4 316.48 L238 316.1 L238.6 316.54 L239.2 315.83 L239.8 315.27 L240.4 317.24 L241 315.96 L241.6 315.81 L242.2 315.92 L242.8 316.37 L243.4 316.17 L244 316.71 L244.6 316.71 L245.2 315.86 L245.8 317.47 L246.4 317.29" fill="none" stroke="#000" stroke-width="1.7" stroke-linejoin="round" stroke-linecap="round"/>
<path d="M154.6 332.77 L155.2 332.69 L155.8 331.95 L156.4 331.02 L157 329.58 L157.6 329.46 L158.2 328.48 L158.8 327.1 L159.4 326.33 L160 326.49 L160.6 325.45 L161.2 324.32 L161.8 323.44 L162.4 322.76 L163 322.14 L163.6 321.98 L164.2 320.87 L164.8 320 L165.4 320.07 L166 319.31 L166.6 318.06 L167.2 318.14 L167.8 317.24 L168.4 316.81 L169 316.11 L169.6 315.75 L170.2 315.09 L170.8 314.59 L171.4 313.43 L172 313.4 L172.6 312.75 L173.2 312.48 L173.8 311.72 L174.4 311.72 L175 310.98 L175.6 310.3 L176.2 309.91 L176.8 309.48" fill="none" stroke="#000" stroke-width="1.05" stroke-linejoin="round" stroke-linecap="round"/>
<path d="M176.8 309.48 L177.4 309.53 L178 308.84 L178.6 309.22 L179.2 308.2 L179.8 309.21 L180.4 309.26 L181 309.41 L181.6 310.36 L182.2 308 L182.8 310.38 L183.4 309.39 L184 309.71 L184.6 310.06 L185.2 310.62 L185.8 309.4 L186.4 309.61 L187 311.24 L187.6 308.9 L188.2 310.64 L188.8 310.84 L189.4 309.38 L190 311.29 L190.6 311.77 L191.2 312.77 L191.8 311.41 L192.4 313.57 L193 312.59 L193.6 312.86 L194.2 314.36 L194.8 312.28 L195.4 314.55 L196 314.64 L196.6 314.19 L197.2 315.99 L197.8 314.94 L198.4 315.56 L199 316.01 L199.6 317 L200.2 315.72 L200.8 316.63 L201.4 316.87 L202 317.5 L202.6 318.51 L203.2 317.26 L203.8 318.99 L204.4 318.02 L205 318.52 L205.6 318.08 L206.2 318.93 L206.8 320.44 L207.4 319.72 L208 320.28 L208.6 319.16 L209.2 319.28 L209.8 319.39 L210.4 320.4 L211 320.76 L211.6 321.4 L212.2 319.54 L212.8 321.66 L213.4 322.32 L214 321.57 L214.6 320.37 L215.2 321.27 L215.8 320.63 L216.4 321.32 L217 323.54 L217.6 322.84 L218.2 323.14 L218.8 323.67 L219.4 324.17 L220 323.49 L220.6 323.65 L221.2 323.83 L221.8 324.16 L222.4 324.02 L223 324.4 L223.6 323.22 L224.2 324.62 L224.8 324.16 L225.4 325.14 L226 323.41 L226.6 323.75 L227.2 323.46 L227.8 325.64 L228.4 326.14 L229 325.52 L229.6 324.83 L230.2 326.2 L230.8 326.2 L231.4 325.67 L232 324.92 L232.6 325.13 L233.2 325.56 L233.8 325.36 L234.4 325.77 L235 326.45 L235.6 327.35 L236.2 324.97 L236.8 326.49 L237.4 325.09 L238 325.4 L238.6 327.41 L239.2 326.83 L239.8 327.87 L240.4 326.62 L241 325.48 L241.6 326.6 L242.2 327.24 L242.8 328.28 L243.4 328.47 L244 327.12 L244.6 327.01 L245.2 326.19 L245.8 327.74 L246.4 326.56" fill="none" stroke="#000" stroke-width="1.7" stroke-linejoin="round" stroke-linecap="round"/>
<line x1="155.6" y1="338.2" x2="155.6" y2="347.5" stroke="#000" stroke-width="1.2"/>
<path d="M155.6 336.2 L154.1 341.6 L157.1 341.6 Z" fill="#111"/>
<text x="150.3" y="355" font-family="Liberation Sans" font-weight="bold" font-size="6.5" fill="#111" stroke="#111" stroke-width="0.35">SLC</text>
<rect x="297.2" y="223.3" width="132.8" height="132.6" fill="none" stroke="#262626" stroke-width="1.15"/>
<line x1="294" y1="355.9" x2="297.2" y2="355.9" stroke="#262626" stroke-width="1"/>
<text x="292.8" y="358.3" font-family="Liberation Serif" font-size="5.8" text-anchor="end" fill="#1a1a1a" stroke="#222" stroke-width="0.25">0</text>
<line x1="294" y1="318.17" x2="297.2" y2="318.17" stroke="#262626" stroke-width="1"/>
<text x="292.8" y="320.57" font-family="Liberation Serif" font-size="5.8" text-anchor="end" fill="#1a1a1a" stroke="#222" stroke-width="0.25">50</text>
<line x1="294" y1="280.43" x2="297.2" y2="280.43" stroke="#262626" stroke-width="1"/>
<text x="292.8" y="282.83" font-family="Liberation Serif" font-size="5.8" text-anchor="end" fill="#1a1a1a" stroke="#222" stroke-width="0.25">100</text>
<line x1="294" y1="242.7" x2="297.2" y2="242.7" stroke="#262626" stroke-width="1"/>
<text x="292.8" y="245.1" font-family="Liberation Serif" font-size="5.8" text-anchor="end" fill="#1a1a1a" stroke="#222" stroke-width="0.25">150</text>
<line x1="297.2" y1="355.9" x2="297.2" y2="359.1" stroke="#262626" stroke-width="1"/>
<text transform="translate(300.1 360.5) rotate(-90)" font-family="Liberation Serif" font-size="5.8" text-anchor="end" fill="#1a1a1a" stroke="#222" stroke-width="0.25">0</text>
<line x1="323.76" y1="355.9" x2="323.76" y2="359.1" stroke="#262626" stroke-width="1"/>
<text transform="translate(326.66 360.5) rotate(-90)" font-family="Liberation Serif" font-size="5.8" text-anchor="end" fill="#1a1a1a" stroke="#222" stroke-width="0.25">50</text>
<line x1="350.32" y1="355.9" x2="350.32" y2="359.1" stroke="#262626" stroke-width="1"/>
<text transform="translate(353.22 360.5) rotate(-90)" font-family="Liberation Serif" font-size="5.8" text-anchor="end" fill="#1a1a1a" stroke="#222" stroke-width="0.25">100</text>
<line x1="376.88" y1="355.9" x2="376.88" y2="359.1" stroke="#262626" stroke-width="1"/>
<text transform="translate(379.78 360.5) rotate(-90)" font-family="Liberation Serif" font-size="5.8" text-anchor="end" fill="#1a1a1a" stroke="#222" stroke-width="0.25">150</text>
<line x1="403.44" y1="355.9" x2="403.44" y2="359.1" stroke="#262626" stroke-width="1"/>
<text transform="translate(406.34 360.5) rotate(-90)" font-family="Liberation Serif" font-size="5.8" text-anchor="end" fill="#1a1a1a" stroke="#222" stroke-width="0.25">200</text>
<line x1="430" y1="355.9" x2="430" y2="359.1" stroke="#262626" stroke-width="1"/>
<text transform="translate(432.9 360.5) rotate(-90)" font-family="Liberation Serif" font-size="5.8" text-anchor="end" fill="#1a1a1a" stroke="#222" stroke-width="0.25">250</text>
<text transform="translate(266.3 234.8) scale(0.92 1)" font-family="Liberation Sans" font-weight="bold" font-size="17.4" fill="#000">E</text>
<text transform="translate(271.8 331.7) rotate(-90)" font-family="Liberation Serif" font-weight="bold" font-size="6.0" word-spacing="2.4" fill="#1a1a1a" stroke="#111" stroke-width="0.3">Fluo3 Fluorescence at 530 nm</text>
<text x="342.3" y="385" font-family="Liberation Serif" font-weight="bold" font-size="6.1" fill="#1a1a1a" stroke="#111" stroke-width="0.3">Time</text>
<text x="360.7" y="385" font-family="Liberation Serif" font-weight="bold" font-size="6.1" fill="#1a1a1a" stroke="#111" stroke-width="0.3">(Seconds)</text>
<path d="M297.4 334.25 L298.1 334.12 L298.8 334.1 L299.5 334.78 L300.2 334.22 L300.9 335.07 L301.6 334.19 L302.3 334.97 L303 334.23 L303.7 334.12 L304.4 334.82 L305.1 334.34 L305.8 334.83 L306.5 334.29 L307.2 334.15 L307.9 334.87 L308.6 334.81 L309.3 334.96 L310 334.83 L310.7 334.18 L311.4 334.73 L312.1 334.81 L312.8 334.56 L313.5 335.03 L314.2 334.35 L314.9 335.06 L315.6 334.82 L316.3 334.11 L317 334.11 L317.7 334.75 L318.4 334.92 L319.1 334.18 L319.8 334.41" fill="none" stroke="#000" stroke-width="4.2" stroke-linejoin="round" stroke-linecap="butt"/>
<path d="M331.4 332.72 L332 326.34 L332.6 321.35 L333.2 315.48 L333.8 309.75 L334.4 304.93 L335 300.22 L335.6 295.39 L336.2 291.16 L336.8 286.43 L337.4 283.14 L338 279.1" fill="none" stroke="#000" stroke-width="1.05" stroke-linejoin="round" stroke-linecap="round"/>
<path d="M338 279.1 L338.6 276.12 L339.2 273.29 L339.8 271.41 L340.4 270.47 L341 272.03 L341.6 273.14 L342.2 273.57 L342.8 273.98 L343.4 274.3 L344 274.77 L344.6 278.45 L345.2 278.8 L345.8 280.26 L346.4 279.96 L347 281.79 L347.6 283.88 L348.2 284.5 L348.8 284.87 L349.4 285.04 L350 286.35 L350.6 288.58 L351.2 288.08 L351.8 289.85 L352.4 290.51 L353 292.2 L353.6 292.81 L354.2 292.18 L354.8 292.2 L355.4 293.73 L356 294.96 L356.6 296.19 L357.2 297.58 L357.8 298.51 L358.4 296.86 L359 299.77 L359.6 300.4 L360.2 301.22 L360.8 301.05 L361.4 300.86 L362 303.1 L362.6 303.59 L363.2 303.85 L363.8 305.07 L364.4 304.06 L365 303.89 L365.6 305.77 L366.2 307.01 L366.8 305.88 L367.4 307.95 L368 308.99 L368.6 307.54 L369.2 309.09 L369.8 309.78 L370.4 309.66 L371 309.41 L371.6 310 L372.2 311.84 L372.8 312.4 L373.4 311.9 L374 311.28 L374.6 313.7 L375.2 314.01 L375.8 312.9 L376.4 314.26 L377 315.53 L377.6 315.87 L378.2 315.21 L378.8 315.44 L379.4 316.11 L380 315.33 L380.6 315.68 L381.2 315.97 L381.8 317.75 L382.4 317.12 L383 317.99 L383.6 317.84 L384.2 318.46 L384.8 317.71 L385.4 317.71 L386 320.65 L386.6 319.18 L387.2 318.7 L387.8 320.43 L388.4 321.12 L389 319.61 L389.6 321.09 L390.2 320.62 L390.8 321.35 L391.4 320.18 L392 320.44 L392.6 323.32 L393.2 323.17 L393.8 322.3 L394.4 322.72 L395 322.05 L395.6 323.68 L396.2 322.87 L396.8 324.5 L397.4 324.17 L398 324.48 L398.6 325.04 L399.2 323.21 L399.8 322.76 L400.4 323.37 L401 323.46 L401.6 323.34 L402.2 323.39 L402.8 324.94 L403.4 325.96 L404 324.93 L404.6 326.43 L405.2 326.45 L405.8 324.21 L406.4 325.83 L407 325.38 L407.6 324.72 L408.2 327.19 L408.8 325.33 L409.4 326.3 L410 326.62 L410.6 327.61 L411.2 326.91 L411.8 326.23 L412.4 326.48 L413 325.77 L413.6 328.12 L414.2 328.28 L414.8 326.22 L415.4 325.79 L416 326.48 L416.6 326.84 L417.2 328.46 L417.8 328.54 L418.4 328.43 L419 326.3 L419.6 328.44 L420.2 328.3 L420.8 328.19 L421.4 329.21 L422 326.68 L422.6 326.99 L423.2 328.77 L423.8 329.35 L424.4 328.67" fill="none" stroke="#000" stroke-width="1.7" stroke-linejoin="round" stroke-linecap="round"/>
<path d="M331.4 332.3 L332 327.91 L332.6 323.5 L333.2 318.42 L333.8 314.31 L334.4 310.06 L335 305.89 L335.6 302.34 L336.2 298.29 L336.8 294.78 L337.4 291.28 L338 288.6 L338.6 284.96 L339.2 282.89" fill="none" stroke="#000" stroke-width="1.05" stroke-linejoin="round" stroke-linecap="round"/>
<path d="M339.2 282.89 L339.8 279.91 L340.4 277.6 L341 277.6 L341.6 276.19 L342.2 278.87 L342.8 279.56 L343.4 280.62 L344 279.59 L344.6 281.55 L345.2 281.66 L345.8 285.08 L346.4 285.92 L347 286.38 L347.6 286.94 L348.2 287.65 L348.8 290.01 L349.4 290.03 L350 291.42 L350.6 291.01 L351.2 292.16 L351.8 292.6 L352.4 295.33 L353 295.75 L353.6 295.46 L354.2 298.33 L354.8 297.45 L355.4 298.66 L356 298.72 L356.6 299.81 L357.2 302.15 L357.8 301.46 L358.4 301.71 L359 303.32 L359.6 303.52 L360.2 305.83 L360.8 304.27 L361.4 307.33 L362 305.38 L362.6 308.34 L363.2 308.3 L363.8 307.61 L364.4 308.93 L365 308.95 L365.6 309.4 L366.2 309.75 L366.8 310.71 L367.4 312.95 L368 313.45 L368.6 313.71 L369.2 311.85 L369.8 312.83 L370.4 314.97 L371 313.04 L371.6 315.33 L372.2 314.52 L372.8 316.84 L373.4 314.53 L374 317.12 L374.6 316.18 L375.2 315.98 L375.8 315.95 L376.4 318.61 L377 318.09 L377.6 317.47 L378.2 318.48 L378.8 320.13 L379.4 318.49 L380 319.78 L380.6 318.84 L381.2 319.23 L381.8 321.15 L382.4 321.24 L383 320.05 L383.6 319.96 L384.2 320.22 L384.8 321.91 L385.4 321.82 L386 321.42 L386.6 321.44 L387.2 322.79 L387.8 323.26 L388.4 323.75 L389 323.3 L389.6 322.42 L390.2 322.22 L390.8 324.27 L391.4 323.53 L392 324.58 L392.6 322.9 L393.2 325.2 L393.8 324.05 L394.4 325.64 L395 325.88 L395.6 325 L396.2 323.83 L396.8 326.49 L397.4 325.44 L398 326.69 L398.6 325.15 L399.2 325.07 L399.8 327.02 L400.4 325.85 L401 325.42 L401.6 326.13 L402.2 326.88 L402.8 325.36 L403.4 326.92 L404 326.83 L404.6 327.14 L405.2 326.15 L405.8 327.92 L406.4 328.32 L407 328.56 L407.6 327.14 L408.2 328.33 L408.8 327.5 L409.4 328.63 L410 326.8 L410.6 329.16 L411.2 329.47 L411.8 328.27 L412.4 328.41 L413 328.54 L413.6 328.64 L414.2 327.27 L414.8 329.99 L415.4 327.98 L416 327.94 L416.6 327.79 L417.2 328.27 L417.8 329.92 L418.4 327.78 L419 328.03 L419.6 329.78 L420.2 328.42 L420.8 327.99 L421.4 329.67 L422 329.66 L422.6 329.56 L423.2 330.12 L423.8 328.49 L424.4 330.69" fill="none" stroke="#000" stroke-width="1.7" stroke-linejoin="round" stroke-linecap="round"/>
<path d="M331.4 332.71 L332 328.09 L332.6 324.32 L333.2 320.94 L333.8 317.34 L334.4 313.63 L335 310.12 L335.6 307.19 L336.2 303.87 L336.8 301.43 L337.4 298.99 L338 295.78" fill="none" stroke="#000" stroke-width="1.05" stroke-linejoin="round" stroke-linecap="round"/>
<path d="M338 295.78 L338.6 293.93 L339.2 292.09 L339.8 290.05 L340.4 289.6 L341 290.47 L341.6 288.97 L342.2 289.11 L342.8 290.34 L343.4 289.53 L344 289.24 L344.6 290.86 L345.2 290.53 L345.8 289.47 L346.4 289.44 L347 290.05 L347.6 290.81 L348.2 292.96 L348.8 293.2 L349.4 294.31 L350 294.88 L350.6 295.84 L351.2 294.48 L351.8 296.64 L352.4 298.73 L353 299.5 L353.6 298.42 L354.2 299.72 L354.8 301.11 L355.4 301.14 L356 302.38 L356.6 301.84 L357.2 303.6 L357.8 304.53 L358.4 303.88 L359 304.91 L359.6 307.91 L360.2 308.04 L360.8 309.14 L361.4 308.92 L362 310.04 L362.6 310.86 L363.2 311.46 L363.8 309.66 L364.4 311.93 L365 311.44 L365.6 313.09 L366.2 312.45 L366.8 313.67 L367.4 315.2 L368 314.81 L368.6 314.21 L369.2 315.39 L369.8 315.57 L370.4 317.43 L371 315.97 L371.6 316.41 L372.2 317.75 L372.8 316.64 L373.4 318.33 L374 319.69 L374.6 318.8 L375.2 318.44 L375.8 319.33 L376.4 319.83 L377 319.06 L377.6 319.3 L378.2 319.61 L378.8 320.35 L379.4 320.95 L380 320.89 L380.6 321.04 L381.2 320.88 L381.8 322.43 L382.4 323.51 L383 323.11 L383.6 323.25 L384.2 323.71 L384.8 322.69 L385.4 324.34 L386 323.86 L386.6 324.32 L387.2 324.72 L387.8 324.52 L388.4 324.27 L389 324.28 L389.6 324.41 L390.2 325.41 L390.8 325.22 L391.4 325.97 L392 324.53 L392.6 325.7 L393.2 327.34 L393.8 325.8 L394.4 326.89 L395 326.91 L395.6 326.52 L396.2 328.68 L396.8 326.93 L397.4 328.45 L398 326.91 L398.6 326.83 L399.2 329.25 L399.8 328.21 L400.4 327.32 L401 328.39 L401.6 328.7 L402.2 329.68 L402.8 328.08 L403.4 328.55 L404 330.75 L404.6 330.28 L405.2 328.78 L405.8 329.43 L406.4 329.61 L407 330.65 L407.6 330.61 L408.2 331.39 L408.8 331.44 L409.4 330.71 L410 331.45 L410.6 331.58 L411.2 331.74 L411.8 331.05 L412.4 332.03 L413 331.93 L413.6 332.61 L414.2 330.51 L414.8 332.69 L415.4 330.37 L416 332.6 L416.6 332.19 L417.2 332.04 L417.8 333.44 L418.4 332.43 L419 332.09 L419.6 333.2 L420.2 333.54 L420.8 332.88 L421.4 332.33 L422 332.61 L422.6 332.71 L423.2 333.53 L423.8 332.4 L424.4 332.74" fill="none" stroke="#000" stroke-width="1.7" stroke-linejoin="round" stroke-linecap="round"/>
<path d="M331.4 332.55 L332 330.37 L332.6 328.32 L333.2 326.83 L333.8 324.99 L334.4 322.78 L335 320.9 L335.6 318.87 L336.2 317.25 L336.8 315.4 L337.4 314.19 L338 312.6 L338.6 310.58 L339.2 309.92 L339.8 307.92 L340.4 307.07 L341 305.78 L341.6 304.69 L342.2 302.82 L342.8 302" fill="none" stroke="#000" stroke-width="1.05" stroke-linejoin="round" stroke-linecap="round"/>
<path d="M342.8 302 L343.4 301.55 L344 300.01 L344.6 299.44 L345.2 299.84 L345.8 299.68 L346.4 300.89 L347 300.51 L347.6 299.89 L348.2 301.21 L348.8 299.89 L349.4 299.93 L350 300.44 L350.6 299.65 L351.2 299.61 L351.8 300.33 L352.4 299.7 L353 301.44 L353.6 300.76 L354.2 300.42 L354.8 299.34 L355.4 300.24 L356 300.49 L356.6 301.15 L357.2 301.46 L357.8 302.64 L358.4 303.28 L359 302.39 L359.6 302.76 L360.2 303.8 L360.8 305.38 L361.4 304.11 L362 305.19 L362.6 306.55 L363.2 305.3 L363.8 306.26 L364.4 308.65 L365 308.76 L365.6 308.41 L366.2 307.79 L366.8 310.49 L367.4 310.41 L368 311.26 L368.6 312.21 L369.2 312.39 L369.8 311.54 L370.4 311.25 L371 312.06 L371.6 313.1 L372.2 313.5 L372.8 313.03 L373.4 313.41 L374 315.06 L374.6 315.37 L375.2 315.04 L375.8 317.2 L376.4 316.56 L377 315.25 L377.6 316.63 L378.2 318.02 L378.8 317 L379.4 318.4 L380 316.79 L380.6 317.93 L381.2 319.72 L381.8 319.28 L382.4 319.79 L383 318.74 L383.6 319.84 L384.2 320.25 L384.8 319.7 L385.4 321.01 L386 320.92 L386.6 322.46 L387.2 321.5 L387.8 321.27 L388.4 320.67 L389 320.98 L389.6 322.88 L390.2 321.25 L390.8 321.43 L391.4 321.82 L392 322.99 L392.6 324.02 L393.2 323.62 L393.8 324.34 L394.4 322.43 L395 322.46 L395.6 324.75 L396.2 323.66 L396.8 324.92 L397.4 324.06 L398 323.69 L398.6 324.11 L399.2 323.79 L399.8 326.18 L400.4 325.42 L401 324.9 L401.6 325.31 L402.2 325.26 L402.8 324.46 L403.4 326.92 L404 326.18 L404.6 327.35 L405.2 326 L405.8 326.62 L406.4 325.69 L407 325.22 L407.6 327.8 L408.2 327.69 L408.8 326.28 L409.4 328.01 L410 327.87 L410.6 326.52 L411.2 327.45 L411.8 328.53 L412.4 327.32 L413 328.67 L413.6 326.77 L414.2 327.26 L414.8 328.25 L415.4 326.93 L416 327.25 L416.6 328.91 L417.2 327.88 L417.8 328.81 L418.4 327.33 L419 327.2 L419.6 327.78 L420.2 327.36 L420.8 329.61 L421.4 327.76 L422 328.57 L422.6 327.38 L423.2 328.6 L423.8 328.24 L424.4 328.34" fill="none" stroke="#000" stroke-width="1.7" stroke-linejoin="round" stroke-linecap="round"/>
<path d="M331.4 332.07 L332 331.45 L332.6 331.45 L333.2 330.32 L333.8 329.55 L334.4 328.83 L335 328.27 L335.6 327.58 L336.2 326.75 L336.8 326.73 L337.4 325.79 L338 325 L338.6 324.93 L339.2 323.73 L339.8 323.31 L340.4 323.28 L341 322.01 L341.6 321.75 L342.2 321.58 L342.8 321 L343.4 319.83 L344 319.49 L344.6 319.33 L345.2 318.48 L345.8 318.55 L346.4 317.32 L347 317.57 L347.6 316.67 L348.2 315.94 L348.8 315.72 L349.4 314.97 L350 315.12 L350.6 314.28 L351.2 314.52 L351.8 313.84 L352.4 313.27 L353 312.81 L353.6 312.85 L354.2 312.17 L354.8 312.54" fill="none" stroke="#000" stroke-width="1.05" stroke-linejoin="round" stroke-linecap="round"/>
<path d="M354.8 312.54 L355.4 311.56 L356 312 L356.6 311.89 L357.2 311.17 L357.8 312.62 L358.4 311.58 L359 312.39 L359.6 312.19 L360.2 311.53 L360.8 311.82 L361.4 311.04 L362 311.38 L362.6 313.36 L363.2 311.99 L363.8 313.07 L364.4 311.67 L365 313.12 L365.6 312.76 L366.2 313.37 L366.8 313.05 L367.4 312.68 L368 313.66 L368.6 313.74 L369.2 313.79 L369.8 315.78 L370.4 314.91 L371 315.59 L371.6 317.35 L372.2 317.33 L372.8 317.97 L373.4 318.25 L374 316.54 L374.6 317.28 L375.2 316.91 L375.8 319.05 L376.4 319.32 L377 318.76 L377.6 319.23 L378.2 320.21 L378.8 320.61 L379.4 319.64 L380 321.59 L380.6 320.49 L381.2 321.54 L381.8 320.56 L382.4 320.64 L383 323.13 L383.6 322.88 L384.2 323.07 L384.8 321.43 L385.4 321.67 L386 322.24 L386.6 322.57 L387.2 323.08 L387.8 323.52 L388.4 322.77 L389 323.74 L389.6 324.85 L390.2 323.77 L390.8 325.8 L391.4 325.24 L392 325.83 L392.6 324.75 L393.2 325.46 L393.8 326.36 L394.4 325.63 L395 324.85 L395.6 327.37 L396.2 327.4 L396.8 326.21 L397.4 325.71 L398 328.16 L398.6 327.64 L399.2 326.24 L399.8 326.96 L400.4 326.75 L401 328.82 L401.6 327.35 L402.2 329.47 L402.8 329.16 L403.4 327.45 L404 329.3 L404.6 328.6 L405.2 329.73 L405.8 330.09 L406.4 328.69 L407 328.29 L407.6 330.81 L408.2 329.48 L408.8 331.02 L409.4 330.47 L410 330.72 L410.6 331.1 L411.2 330.64 L411.8 330.27 L412.4 329.26 L413 331.17 L413.6 330.52 L414.2 330.86 L414.8 332.13 L415.4 329.98 L416 331.86 L416.6 329.94 L417.2 331.88 L417.8 332.26 L418.4 330.83 L419 331.72 L419.6 332.99 L420.2 332.15 L420.8 331.97 L421.4 331.23 L422 330.78 L422.6 331.69 L423.2 331.92 L423.8 331.41 L424.4 331.78" fill="none" stroke="#000" stroke-width="1.7" stroke-linejoin="round" stroke-linecap="round"/>
<path d="M331.4 332.14 L332 332.6 L332.6 332.46 L333.2 331.94 L333.8 331.84 L334.4 332.01 L335 331.84 L335.6 332.22 L336.2 331.55 L336.8 331.4 L337.4 331.87 L338 331.05 L338.6 331.37 L339.2 331.05 L339.8 331.42 L340.4 331.07 L341 331.18 L341.6 330.51 L342.2 330.91 L342.8 330.75 L343.4 330.52 L344 330.73 L344.6 330.71 L345.2 329.92 L345.8 330 L346.4 329.98 L347 329.75 L347.6 329.52 L348.2 329.65 L348.8 329.49 L349.4 329.9 L350 329.57 L350.6 329.16 L351.2 329.29 L351.8 329.35 L352.4 329.17 L353 328.9 L353.6 328.73 L354.2 328.6 L354.8 329.48 L355.4 329.17 L356 328.45 L356.6 329 L357.2 329.19 L357.8 328.71 L358.4 328.2 L359 328.5 L359.6 328.39 L360.2 328.08 L360.8 328.37 L361.4 327.78 L362 328.61 L362.6 328.29 L363.2 328.21 L363.8 328.46 L364.4 328.13 L365 327.68 L365.6 327.63 L366.2 327.47 L366.8 327.32 L367.4 328.01 L368 328.03 L368.6 327.46 L369.2 327.31 L369.8 327.72" fill="none" stroke="#000" stroke-width="1.05" stroke-linejoin="round" stroke-linecap="round"/>
<path d="M369.8 327.72 L370.4 327.89 L371 328.25 L371.6 327.49 L372.2 328.63 L372.8 328.78 L373.4 328.57 L374 327.43 L374.6 327.07 L375.2 328.89 L375.8 327.51 L376.4 327.68 L377 328.23 L377.6 327.75 L378.2 329.08 L378.8 327.46 L379.4 326.94 L380 328.45 L380.6 328.66 L381.2 329.23 L381.8 328.95 L382.4 329.55 L383 329.71 L383.6 328.49 L384.2 328.54 L384.8 327.63 L385.4 328.07 L386 328.91 L386.6 327.55 L387.2 329.3 L387.8 327.88 L388.4 328.71 L389 330.23 L389.6 327.82 L390.2 327.73 L390.8 328.9 L391.4 328.25 L392 329.79 L392.6 327.85 L393.2 330.27 L393.8 330.38 L394.4 330.27 L395 329.34 L395.6 329.02 L396.2 330.16 L396.8 329.84 L397.4 329.66 L398 329.52 L398.6 329.89 L399.2 330.62 L399.8 331.16 L400.4 331.47 L401 329.49 L401.6 329.95 L402.2 330.46 L402.8 330.89 L403.4 330.38 L404 330.05 L404.6 329.83 L405.2 330.59 L405.8 331.07 L406.4 332.59 L407 332.5 L407.6 332.47 L408.2 332.87 L408.8 332.92 L409.4 332.05 L410 332.67 L410.6 330.65 L411.2 332.46 L411.8 332.35 L412.4 331.56 L413 332.41 L413.6 333.55 L414.2 332.31 L414.8 332.85 L415.4 331.95 L416 332.15 L416.6 333.74 L417.2 331.41 L417.8 331.93 L418.4 333.37 L419 332.79 L419.6 331.84 L420.2 333.51 L420.8 332.77 L421.4 333.41 L422 333.01 L422.6 333.39 L423.2 333.55 L423.8 333.13 L424.4 332.4" fill="none" stroke="#000" stroke-width="1.7" stroke-linejoin="round" stroke-linecap="round"/>
<line x1="331.6" y1="338" x2="331.6" y2="347.2" stroke="#000" stroke-width="1.2"/>
<path d="M331.6 336 L330.1 341.4 L333.1 341.4 Z" fill="#111"/>
<text x="326.5" y="353.8" font-family="Liberation Sans" font-weight="bold" font-size="6.5" fill="#111" stroke="#111" stroke-width="0.35">ELC</text>
<rect x="119.2" y="444" width="134.8" height="133.3" fill="none" stroke="#262626" stroke-width="1.15"/>
<line x1="116" y1="577.3" x2="119.2" y2="577.3" stroke="#262626" stroke-width="1"/>
<text x="114.8" y="579.7" font-family="Liberation Serif" font-size="5.8" text-anchor="end" fill="#1a1a1a" stroke="#222" stroke-width="0.25">0</text>
<line x1="116" y1="532.87" x2="119.2" y2="532.87" stroke="#262626" stroke-width="1"/>
<text x="114.8" y="535.27" font-family="Liberation Serif" font-size="5.8" text-anchor="end" fill="#1a1a1a" stroke="#222" stroke-width="0.25">50</text>
<line x1="116" y1="488.43" x2="119.2" y2="488.43" stroke="#262626" stroke-width="1"/>
<text x="114.8" y="490.83" font-family="Liberation Serif" font-size="5.8" text-anchor="end" fill="#1a1a1a" stroke="#222" stroke-width="0.25">100</text>
<line x1="116" y1="444" x2="119.2" y2="444" stroke="#262626" stroke-width="1"/>
<text x="114.8" y="446.4" font-family="Liberation Serif" font-size="5.8" text-anchor="end" fill="#1a1a1a" stroke="#222" stroke-width="0.25">150</text>
<line x1="119.2" y1="577.3" x2="119.2" y2="580.5" stroke="#262626" stroke-width="1"/>
<text transform="translate(122.1 581.9) rotate(-90)" font-family="Liberation Serif" font-size="5.8" text-anchor="end" fill="#1a1a1a" stroke="#222" stroke-width="0.25">0</text>
<line x1="152.9" y1="577.3" x2="152.9" y2="580.5" stroke="#262626" stroke-width="1"/>
<text transform="translate(155.8 581.9) rotate(-90)" font-family="Liberation Serif" font-size="5.8" text-anchor="end" fill="#1a1a1a" stroke="#222" stroke-width="0.25">200</text>
<line x1="186.6" y1="577.3" x2="186.6" y2="580.5" stroke="#262626" stroke-width="1"/>
<text transform="translate(189.5 581.9) rotate(-90)" font-family="Liberation Serif" font-size="5.8" text-anchor="end" fill="#1a1a1a" stroke="#222" stroke-width="0.25">400</text>
<line x1="220.3" y1="577.3" x2="220.3" y2="580.5" stroke="#262626" stroke-width="1"/>
<text transform="translate(223.2 581.9) rotate(-90)" font-family="Liberation Serif" font-size="5.8" text-anchor="end" fill="#1a1a1a" stroke="#222" stroke-width="0.25">600</text>
<line x1="254" y1="577.3" x2="254" y2="580.5" stroke="#262626" stroke-width="1"/>
<text transform="translate(256.9 581.9) rotate(-90)" font-family="Liberation Serif" font-size="5.8" text-anchor="end" fill="#1a1a1a" stroke="#222" stroke-width="0.25">800</text>
<text x="88.6" y="455" font-family="Liberation Sans" font-weight="bold" font-size="17.4" fill="#000">F</text>
<text transform="translate(94.3 554.6) rotate(-90)" font-family="Liberation Serif" font-weight="bold" font-size="6.0" word-spacing="2.4" fill="#1a1a1a" stroke="#111" stroke-width="0.3">Fluo3 Fluorescence at 530 nm</text>
<text x="168.2" y="608.6" font-family="Liberation Serif" font-weight="bold" font-size="6.1" fill="#1a1a1a" stroke="#111" stroke-width="0.3">Time</text>
<text x="186.6" y="608.6" font-family="Liberation Serif" font-weight="bold" font-size="6.1" fill="#1a1a1a" stroke="#111" stroke-width="0.3">(Seconds)</text>
<path d="M119.8 553.58 L120.87 553.87 L121.93 553.43 L123 552.93 L124.15 553.1 L125.3 552.33 L127.2 552" fill="none" stroke="#000" stroke-width="2.35" stroke-linejoin="round" stroke-linecap="round"/>
<path d="M130.1 549.9 L130.18 549.17 L130.27 548.27 L130.35 547.5 L130.43 546.68 L130.52 545.77 L130.6 545.02 L130.65 544.11 L130.7 543.4 L130.75 542.62 L130.8 541.7 L130.85 540.98 L130.9 540.1 L130.95 539.39 L131 538.69 L131.04 537.79 L131.08 537 L131.12 536.19 L131.16 535.21 L131.2 534.6 L131.24 533.71 L131.28 532.74 L131.32 532.09 L131.36 531.16 L131.4 530.28 L131.44 529.65 L131.48 528.73 L131.52 527.95 L131.56 526.98 L131.6 526.31 L131.64 525.31 L131.68 524.53 L131.72 523.74 L131.76 522.83 L131.8 522.14 L131.84 521.23 L131.88 520.42 L131.92 519.7 L131.96 518.81 L132 518.09 L132.04 517.22 L132.08 516.46 L132.12 515.58 L132.16 514.85 L132.2 514.02 L132.23 513.04 L132.27 512.37 L132.31 511.46 L132.35 510.75 L132.39 509.91 L132.43 509.13 L132.47 508.15 L132.51 507.4 L132.55 506.67 L132.59 505.91 L132.63 505.04 L132.67 504.07 L132.7 503.39 L132.74 502.46 L132.78 501.75 L132.82 501 L132.86 500.02 L132.9 499.4 L132.94 498.52 L132.98 497.59 L133.01 496.75 L133.05 495.99 L133.09 495.26 L133.13 494.38 L133.17 493.44 L133.2 492.59 L133.24 491.79 L133.28 491.13 L133.32 490.16 L133.36 489.43 L133.4 488.54 L133.43 487.81 L133.47 486.91 L133.51 486.03 L133.55 485.39 L133.59 484.48 L133.62 483.69 L133.66 482.9 L133.7 482.11 L133.77 481.01 L133.85 480.21 L133.93 479.29 L134 478.5 L134.07 477.71 L134.15 476.82 L134.23 475.76 L134.3 474.92 L135.1 474.6" fill="none" stroke="#000" stroke-width="1.9" stroke-linejoin="round" stroke-linecap="round"/>
<path d="M135.1 474.73 L135.5 475.62 L135.9 476.46 L136.03 477.3 L136.17 477.98 L136.3 479.06 L136.43 479.69 L136.57 480.69 L136.7 481.39 L136.83 481.99 L136.97 482.9 L137.1 483.66 L137.23 484.74 L137.37 485.43 L137.5 486.02 L137.64 486.89 L137.78 487.79 L137.91 488.65 L138.05 489.51 L138.19 490.26 L138.32 491.07 L138.46 491.75 L138.6 492.8 L138.74 493.52 L138.88 494.22 L139.01 495.21 L139.15 496.24 L139.29 496.69 L139.43 497.55 L139.56 498.58 L139.7 499.24 L139.84 500.06 L139.98 500.98 L140.11 501.7 L140.25 502.64 L140.39 503.45 L140.53 504.44 L140.66 505.28 L140.8 505.71 L140.96 506.74 L141.12 507.64 L141.29 508.5 L141.45 509.28 L141.61 510.04 L141.78 510.85 L141.94 511.56 L142.1 512.35 L142.26 513.37 L142.43 514.22 L142.59 515.06 L142.75 515.77 L142.91 516.44 L143.07 517.44 L143.24 518.25 L143.4 518.97 L143.56 519.84 L143.72 520.54 L143.89 521.44 L144.05 522.2 L144.21 522.87 L144.38 523.8 L144.54 524.61 L144.7 525.7 L145.01 526.27 L145.32 527 L145.63 527.73 L145.94 528.51 L146.26 529.33 L146.57 530.02 L146.88 530.75 L147.19 531.87 L147.5 532.48 L147.92 533.21 L148.33 533.99 L148.75 534.62 L149.17 535.3 L149.58 535.99 L150 536.82 L150.5 537.51 L151 538.36 L151.5 538.97 L152 539.81 L152.5 540.25 L153 541.17 L153.53 541.63 L154.07 542.03 L154.6 542.67 L155.13 543.43 L155.67 544.19 L156.2 544.54 L156.96 545.23 L157.72 545.61 L158.48 546.31 L159.24 546.51 L160 547.19 L160.76 547.7 L161.52 547.79 L162.28 548.12 L163.04 548.37 L163.8 548.77 L164.73 549.06 L165.65 549.48 L166.57 549.54 L167.5 549.86 L168.3 549.88 L169.1 550.14 L169.9 550.35 L170.7 550.36 L171.5 550.28 L172.34 550.55 L173.18 550.71 L174.02 550.62 L174.86 550.47 L175.7 550.7" fill="none" stroke="#000" stroke-width="2.35" stroke-linejoin="round" stroke-linecap="round"/>
<path d="M179.7 552.02 L180.85 551.66 L182 550.89 L183 550.82 L184 550.93 L185 551.25 L186 551.56 L187 551.48 L188 551.76 L189 551.35 L190 551.51 L191 551.89 L192 551.9 L193 551.68 L194 551.83 L195 551.54 L196 551.29 L197 551.49 L198 551.18 L199 551.65 L200 551.5 L201 551.67 L202 551.8 L203 551.62 L204 551.82 L205 551.56 L206 552.15 L207 551.86 L208 552.11 L209 551.42 L210 551.77 L211 551.8 L212 551.48 L213 551.34 L214 551.41 L215 551.42 L216 551.89 L217 551.44 L218 551.97 L219 551.72 L220 551.83 L221.05 551.84 L222.1 551.8 L223.15 551.85 L224.2 551.79 L225.25 551.58 L226.3 551.85 L227.35 551.49 L228.4 551.79 L229.45 551.8 L230.5 551.6" fill="none" stroke="#000" stroke-width="2.35" stroke-linejoin="round" stroke-linecap="round"/>
<line x1="129.7" y1="556.6" x2="129.7" y2="566.2" stroke="#000" stroke-width="1.2"/>
<path d="M129.7 554.6 L128.1 559.8 L131.3 559.8 Z" fill="#111"/>
<line x1="179.5" y1="556.6" x2="179.5" y2="566.2" stroke="#000" stroke-width="1.2"/>
<path d="M179.5 554.6 L177.9 559.8 L181.1 559.8 Z" fill="#111"/>
<text x="123.7" y="574.3" font-family="Liberation Sans" font-weight="bold" font-size="8.0" fill="#111" stroke="#111" stroke-width="0.35">SLC</text>
<text x="173.8" y="574.3" font-family="Liberation Sans" font-weight="bold" font-size="8.0" fill="#111" stroke="#111" stroke-width="0.35">ELC</text>
<rect x="298.2" y="442.6" width="131.9" height="134.9" fill="none" stroke="#262626" stroke-width="1.15"/>
<line x1="295" y1="577.5" x2="298.2" y2="577.5" stroke="#262626" stroke-width="1"/>
<text x="293.8" y="579.9" font-family="Liberation Serif" font-size="5.8" text-anchor="end" fill="#1a1a1a" stroke="#222" stroke-width="0.25">0</text>
<line x1="295" y1="532.63" x2="298.2" y2="532.63" stroke="#262626" stroke-width="1"/>
<text x="293.8" y="535.03" font-family="Liberation Serif" font-size="5.8" text-anchor="end" fill="#1a1a1a" stroke="#222" stroke-width="0.25">50</text>
<line x1="295" y1="487.77" x2="298.2" y2="487.77" stroke="#262626" stroke-width="1"/>
<text x="293.8" y="490.17" font-family="Liberation Serif" font-size="5.8" text-anchor="end" fill="#1a1a1a" stroke="#222" stroke-width="0.25">100</text>
<line x1="295" y1="442.9" x2="298.2" y2="442.9" stroke="#262626" stroke-width="1"/>
<text x="293.8" y="445.3" font-family="Liberation Serif" font-size="5.8" text-anchor="end" fill="#1a1a1a" stroke="#222" stroke-width="0.25">150</text>
<line x1="298.2" y1="577.5" x2="298.2" y2="580.7" stroke="#262626" stroke-width="1"/>
<text transform="translate(301.1 582.1) rotate(-90)" font-family="Liberation Serif" font-size="5.8" text-anchor="end" fill="#1a1a1a" stroke="#222" stroke-width="0.25">0</text>
<line x1="331.18" y1="577.5" x2="331.18" y2="580.7" stroke="#262626" stroke-width="1"/>
<text transform="translate(334.07 582.1) rotate(-90)" font-family="Liberation Serif" font-size="5.8" text-anchor="end" fill="#1a1a1a" stroke="#222" stroke-width="0.25">200</text>
<line x1="364.15" y1="577.5" x2="364.15" y2="580.7" stroke="#262626" stroke-width="1"/>
<text transform="translate(367.05 582.1) rotate(-90)" font-family="Liberation Serif" font-size="5.8" text-anchor="end" fill="#1a1a1a" stroke="#222" stroke-width="0.25">400</text>
<line x1="397.12" y1="577.5" x2="397.12" y2="580.7" stroke="#262626" stroke-width="1"/>
<text transform="translate(400.02 582.1) rotate(-90)" font-family="Liberation Serif" font-size="5.8" text-anchor="end" fill="#1a1a1a" stroke="#222" stroke-width="0.25">600</text>
<line x1="430.1" y1="577.5" x2="430.1" y2="580.7" stroke="#262626" stroke-width="1"/>
<text transform="translate(433 582.1) rotate(-90)" font-family="Liberation Serif" font-size="5.8" text-anchor="end" fill="#1a1a1a" stroke="#222" stroke-width="0.25">800</text>
<text x="265.9" y="454.1" font-family="Liberation Sans" font-weight="bold" font-size="18.5" fill="#000">G</text>
<text transform="translate(272.5 553.5) rotate(-90)" font-family="Liberation Serif" font-weight="bold" font-size="6.0" word-spacing="2.4" fill="#1a1a1a" stroke="#111" stroke-width="0.3">Fluo3 Fluorescence at 530 nm</text>
<text x="344.2" y="607.6" font-family="Liberation Serif" font-weight="bold" font-size="6.1" fill="#1a1a1a" stroke="#111" stroke-width="0.3">Time</text>
<text x="362.6" y="607.6" font-family="Liberation Serif" font-weight="bold" font-size="6.1" fill="#1a1a1a" stroke="#111" stroke-width="0.3">(Seconds)</text>
<path d="M298.6 552.99 L299.8 552.52 L301 552.69 L302 552.67 L303 552.13 L304 551.84 L305.07 551.68 L306.13 551.64 L307.2 551" fill="none" stroke="#000" stroke-width="2.35" stroke-linejoin="round" stroke-linecap="round"/>
<path d="M309.3 548.91 L309.41 548.01 L309.52 547.24 L309.64 546.41 L309.75 545.57 L309.86 544.59 L309.98 543.87 L310.09 542.81 L310.2 542.06 L310.28 541.06 L310.37 540.19 L310.45 539.37 L310.54 538.51 L310.62 537.77 L310.71 536.94 L310.79 536 L310.88 535.34 L310.96 534.35 L311.05 533.45 L311.13 532.61 L311.22 531.9 L311.3 531.1 L311.35 530.1 L311.41 529.24 L311.46 528.6 L311.51 527.64 L311.56 527 L311.62 526.06 L311.67 525.27 L311.72 524.37 L311.78 523.66 L311.83 522.76 L311.88 521.9 L311.94 521.21 L311.99 520.2 L312.04 519.53 L312.09 518.54 L312.15 517.86 L312.2 516.98 L312.26 516.27 L312.32 515.26 L312.38 514.57 L312.45 513.72 L312.51 513.02 L312.57 512.21 L312.63 511.32 L312.69 510.41 L312.75 509.6 L312.82 508.79 L312.88 508.01 L312.94 507.15 L313 506.33 L313.14 505.58 L313.28 504.67 L313.42 503.71 L313.56 503 L313.7 501.93 L314.5 501.2" fill="none" stroke="#000" stroke-width="1.9" stroke-linejoin="round" stroke-linecap="round"/>
<path d="M314.5 501.23 L315.3 502.36 L315.48 503.43 L315.66 504.21 L315.84 504.75 L316.02 505.72 L316.2 506.53 L316.33 507.16 L316.47 508.02 L316.6 508.93 L316.73 509.93 L316.87 510.49 L317 511.54 L317.13 512.35 L317.27 513.14 L317.4 514.03 L317.52 514.95 L317.64 515.48 L317.75 516.55 L317.87 517.14 L317.99 518.11 L318.11 518.95 L318.23 519.47 L318.35 520.55 L318.46 521.4 L318.58 521.92 L318.7 522.61 L318.87 523.5 L319.03 524.7 L319.2 525.17 L319.37 526.39 L319.53 526.94 L319.7 528.03 L319.87 528.63 L320.03 529.51 L320.2 530.57 L320.4 531.11 L320.6 531.99 L320.8 533 L321 533.7 L321.2 534.54 L321.4 535.36 L321.6 535.76 L321.8 536.62 L322 537.62 L322.29 538.33 L322.57 538.83 L322.86 539.77 L323.14 540.42 L323.43 541.26 L323.71 541.88 L324 542.61 L324.42 543.76 L324.84 544.25 L325.26 545.23 L325.68 545.69 L326.1 546.59 L326.83 547.05 L327.55 547.77 L328.27 548.27 L329 549.07 L329.9 549.23 L330.8 549.85 L331.7 550.13 L332.6 550.34 L333.5 550.62 L334.4 550.87 L335.3 551.22 L336.2 551.17 L337.1 551.3 L338 551.79 L338.87 551.87 L339.74 551.92 L340.61 551.85 L341.49 551.93 L342.36 552.08 L343.23 552.11 L344.1 552.22 L344.94 552.47 L345.79 552.51 L346.63 552.64 L347.47 552.63 L348.31 552.56 L349.16 552.9 L350 552.96 L350.92 552.98 L351.84 553.04 L352.76 553.16 L353.68 553.33 L354.6 553.2" fill="none" stroke="#000" stroke-width="2.35" stroke-linejoin="round" stroke-linecap="round"/>
<path d="M357.9 553.16 L358.95 552.55 L360 551.83 L361 551.41 L362 551.11 L363 551.13 L364.3 550.52 L365.6 550.32 L366.9 550.14 L367.93 550.05 L368.97 550.75 L370 550.15 L371 550.75 L372 551.15 L373 550.85 L374 551.28 L375.12 551.21 L376.25 551.22 L377.38 551.29 L378.5 551.33 L379.58 551.87 L380.67 551.87 L381.75 551.99 L382.83 551.42 L383.92 551.9 L385 551.68 L386 551.93 L387 551.89 L388 551.76 L389 552.24 L390 551.59 L391 552.14 L392 552.25 L393 551.99 L394 552.04 L395 552.31 L396 551.76 L397 552.03 L398 552.1 L399 551.83 L400 552.05 L401.04 551.84 L402.09 551.95 L403.13 552.02 L404.17 552.08 L405.21 551.85 L406.26 552.08 L407.3 552" fill="none" stroke="#000" stroke-width="2.35" stroke-linejoin="round" stroke-linecap="round"/>
<line x1="310" y1="557.6" x2="310" y2="567" stroke="#000" stroke-width="1.2"/>
<path d="M310 555.6 L308.4 560.8 L311.6 560.8 Z" fill="#111"/>
<line x1="357.7" y1="558.5" x2="357.7" y2="567.1" stroke="#000" stroke-width="1.2"/>
<path d="M357.7 556.5 L356.1 561.7 L359.3 561.7 Z" fill="#111"/>
<text x="304.5" y="575.6" font-family="Liberation Sans" font-weight="bold" font-size="8.0" fill="#111" stroke="#111" stroke-width="0.35">ELC</text>
<text x="351.4" y="576.2" font-family="Liberation Sans" font-weight="bold" font-size="8.0" fill="#111" stroke="#111" stroke-width="0.35">SLC</text>
</svg>
</body></html>
